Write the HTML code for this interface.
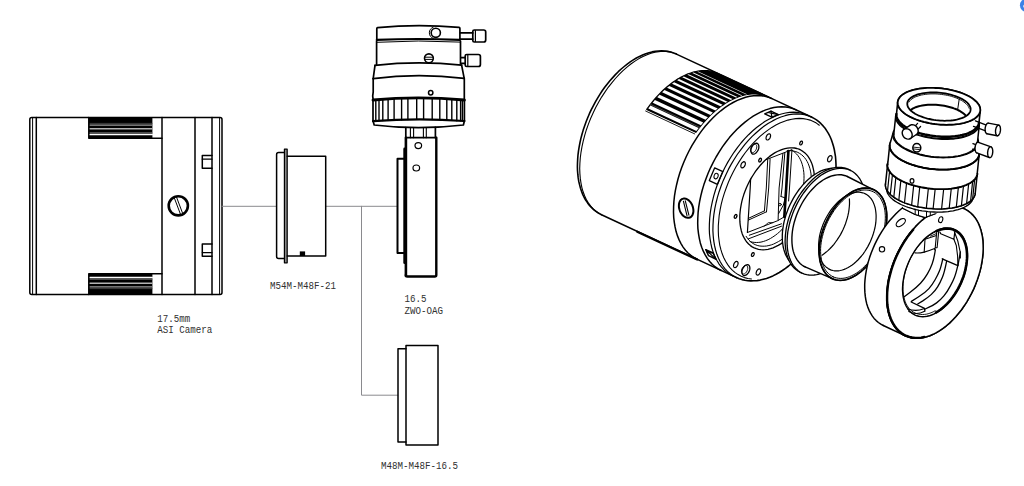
<!DOCTYPE html>
<html><head><meta charset="utf-8"><title>ZWO OAG back focus</title>
<style>html,body{margin:0;padding:0;background:#fff;overflow:hidden}
svg{display:block}
text{font-family:"Liberation Mono","DejaVu Sans Mono",monospace;}
</style></head><body>
<svg width="1024" height="486" viewBox="0 0 1024 486" stroke-linecap="round" stroke-linejoin="round">
<rect width="1024" height="486" fill="#fff"/>
<path d="M31.8 117.5L220 117.5Q222 117.5 222 119.5L222 292.5Q222 294.5 220 294.5L31.8 294.5Q29.8 294.5 29.8 292.5L29.8 119.5Q29.8 117.5 31.8 117.5Z" stroke="#000" stroke-width="1.5" fill="none"/>
<path d="M32.6 117.5L32.6 294.5" stroke="#000" stroke-width="1.0" fill="none"/>
<path d="M36.3 117.5L36.3 294.5" stroke="#000" stroke-width="1.5" fill="none"/>
<path d="M162 117.5L162 294.5" stroke="#000" stroke-width="1.5" fill="none"/>
<path d="M195 117.5L195 294.5" stroke="#000" stroke-width="1.5" fill="none"/>
<path d="M212 117.5L212 294.5" stroke="#000" stroke-width="1.5" fill="none"/>
<path d="M219.6 117.5L219.6 294.5" stroke="#000" stroke-width="1.0" fill="none"/>
<path d="M212 155.6L202.3 155.6L202.3 168.2L212 168.2" stroke="#000" stroke-width="1.5" fill="none"/>
<path d="M202.3 159.2L212 159.2" stroke="#000" stroke-width="1.2" fill="none"/>
<path d="M212 244L202.3 244L202.3 256.2L212 256.2" stroke="#000" stroke-width="1.5" fill="none"/>
<path d="M202.3 252.6L212 252.6" stroke="#000" stroke-width="1.2" fill="none"/>
<rect x="88.8" y="117.5" width="63.60000000000001" height="20.7" fill="#000"/>
<path d="M89.6 123.4L152.1 123.4" stroke="#555" stroke-width="0.7" fill="none"/>
<path d="M89.6 125.1L152.1 125.1" stroke="#9a9a9a" stroke-width="1.1" fill="none"/>
<path d="M89.6 128.7L152.1 128.7" stroke="#b4b4b4" stroke-width="1.4" fill="none"/>
<path d="M89.6 132.8L152.1 132.8" stroke="#8a8a8a" stroke-width="0.8" fill="none"/>
<path d="M89.6 134.5L152.1 134.5" stroke="#fff" stroke-width="1.7" fill="none"/>
<path d="M88.8 117.5L88.8 138.2L162 138.2" stroke="#000" stroke-width="1.5" fill="none"/>
<rect x="88.8" y="273.8" width="63.60000000000001" height="20.7" fill="#000"/>
<path d="M89.6 288.6L152.1 288.6" stroke="#555" stroke-width="0.7" fill="none"/>
<path d="M89.6 286.9L152.1 286.9" stroke="#9a9a9a" stroke-width="1.1" fill="none"/>
<path d="M89.6 283.3L152.1 283.3" stroke="#b4b4b4" stroke-width="1.4" fill="none"/>
<path d="M89.6 279.2L152.1 279.2" stroke="#8a8a8a" stroke-width="0.8" fill="none"/>
<path d="M89.6 277.5L152.1 277.5" stroke="#fff" stroke-width="1.7" fill="none"/>
<path d="M88.8 294.5L88.8 273.8L162 273.8" stroke="#000" stroke-width="1.5" fill="none"/>
<circle cx="178.3" cy="205.8" r="9.6" fill="none" stroke="#000" stroke-width="2.6"/>
<path d="M174.2 197.6L180.6 214.6M176.4 196.8L182.8 213.8" stroke="#000" stroke-width="1.0" fill="none"/>
<path d="M222 206.3L276.6 206.3" stroke="#8a8a8e" stroke-width="1" fill="none"/>
<path d="M325.7 206.3L397.4 206.3" stroke="#8a8a8e" stroke-width="1" fill="none"/>
<path d="M361.5 206.3L361.5 395.2L397.8 395.2" stroke="#8a8a8e" stroke-width="1" fill="none"/>
<path d="M284.6 152.5L278.6 152.5Q276.6 152.5 276.6 154.5L276.6 256.6Q276.6 258.6 278.6 258.6L284.6 258.6" stroke="#000" stroke-width="1.5" fill="none"/>
<rect x="284.4" y="149.2" width="2.8" height="113.6" fill="#888" stroke="#000" stroke-width="1.2"/>
<path d="M287.2 156.3L325.7 156.3L325.7 256L287.2 256" stroke="#000" stroke-width="1.5" fill="none"/>
<rect x="299.8" y="251.4" width="5.3" height="4.6" fill="#000"/>
<path d="M406 348.7L398 348.7L398 442.1L406 442.1" stroke="#000" stroke-width="1.5" fill="none"/>
<path d="M406 345.4L438 345.4L438 445.1L406 445.1Z" stroke="#000" stroke-width="1.5" fill="none"/>
<text x="157.2" y="321.6" font-size="11" textLength="33" lengthAdjust="spacingAndGlyphs" fill="#303030">17.5mm</text>
<text x="157.2" y="332.7" font-size="11" textLength="55" lengthAdjust="spacingAndGlyphs" fill="#303030">ASI Camera</text>
<text x="270" y="288.5" font-size="11" textLength="66" lengthAdjust="spacingAndGlyphs" fill="#303030">M54M-M48F-21</text>
<text x="404.4" y="302.3" font-size="11" textLength="22" lengthAdjust="spacingAndGlyphs" fill="#303030">16.5</text>
<text x="404.4" y="313.5" font-size="11" textLength="38.5" lengthAdjust="spacingAndGlyphs" fill="#303030">ZWO-OAG</text>
<text x="381" y="468.7" font-size="11" textLength="77" lengthAdjust="spacingAndGlyphs" fill="#303030">M48M-M48F-16.5</text>
<circle cx="1026.6" cy="5.3" r="6.7" fill="#3b82e6"/>
<circle cx="1024.6" cy="6.2" r="1.6" fill="#c4d9f8"/>
<path d="M377.6 27.6Q418 23.6 459 27.4Q459.9 27.5 459.9 28.4L459.9 39.5M376.8 39.5L376.8 28.5Q376.8 27.7 377.6 27.6" stroke="#000" stroke-width="1.7" fill="none"/>
<path d="M376.8 39.9Q418 38.1 459.9 39.9" stroke="#000" stroke-width="2.2" fill="none"/>
<path d="M376.8 42.3Q418 39.8 460.3 42.1" stroke="#000" stroke-width="1.0" fill="none"/>
<circle cx="435.8" cy="32.8" r="4.6" fill="#fff" stroke="#000" stroke-width="1.6"/>
<path d="M433.2 27.2A6 6 0 0 0 433.2 38.4" stroke="#000" stroke-width="1.0" fill="none"/>
<path d="M376.6 41L376.6 64.6M460.5 41L460.5 64.4" stroke="#000" stroke-width="1.7" fill="none"/>
<path d="M375 65.3Q418 60.7 461.6 65.1" stroke="#000" stroke-width="1.7" fill="none"/>
<path d="M375 65.3L373.2 78.6M461.6 65.1L464.2 78.4" stroke="#000" stroke-width="1.7" fill="none"/>
<path d="M373.2 78.6Q418 72.6 464.2 78.4" stroke="#000" stroke-width="1.8" fill="none"/>
<path d="M373.2 78.6L373.2 92Q372.2 96 373.2 100M464.3 78.4L464.3 100" stroke="#000" stroke-width="1.7" fill="none"/>
<path d="M373 100Q418 95.6 464.4 100" stroke="#000" stroke-width="2.8" fill="none"/>
<circle cx="430.7" cy="92.8" r="2.2" fill="#fff" stroke="#000" stroke-width="1.5"/>
<circle cx="428.9" cy="58.3" r="4.4" fill="#fff" stroke="#000" stroke-width="1.6"/>
<path d="M425 57.2L432.8 57.2M425 59.4L432.8 59.4" stroke="#000" stroke-width="1.0" fill="none"/>
<path d="M460.2 32.9L472.8 32.9M460.2 39.1L472.8 39.1" stroke="#000" stroke-width="1.7" fill="none"/>
<path d="M474.3 30L483.7 30Q485.7 30 485.7 32L485.7 40Q485.7 42 483.7 42L474.3 42Q472.8 42 472.8 40.5L472.8 31.5Q472.8 30 474.3 30Z" stroke="#000" stroke-width="1.7" fill="none"/>
<path d="M475.4 30.5L475.4 41.5" stroke="#000" stroke-width="1.2" fill="none"/>
<path d="M460.8 57.7L465.2 57.7M460.8 63.3L465.2 63.3" stroke="#000" stroke-width="1.7" fill="none"/>
<path d="M466.7 54.5L478.4 54.5Q480.4 54.5 480.4 56.5L480.4 64.5Q480.4 66.5 478.4 66.5L466.7 66.5Q465.2 66.5 465.2 65.0L465.2 56.0Q465.2 54.5 466.7 54.5Z" stroke="#000" stroke-width="1.7" fill="none"/>
<path d="M467.8 55.0L467.8 66.0" stroke="#000" stroke-width="1.2" fill="none"/>
<path d="M373 100L373 121.2M464.4 100L464.4 121" stroke="#000" stroke-width="1.7" fill="none"/>
<path d="M373 121.2Q418 117.6 464.4 121" stroke="#000" stroke-width="2.2" fill="none"/>
<path d="M373.2 121.5L374.2 125Q418 130.4 463.4 125L464.3 121.3" stroke="#000" stroke-width="1.7" fill="none"/>
<path d="M375.8 100.5L375.8 121" stroke="#000" stroke-width="1.4" fill="none"/>
<path d="M379 100.3L379 120.8" stroke="#000" stroke-width="1.4" fill="none"/>
<path d="M382.8 100L382.8 120.5" stroke="#000" stroke-width="1.4" fill="none"/>
<path d="M388.1 99.6L388.1 120.2" stroke="#000" stroke-width="1.4" fill="none"/>
<path d="M394.1 99.2L394.1 119.9" stroke="#000" stroke-width="1.4" fill="none"/>
<path d="M401.6 98.9L401.6 119.7" stroke="#000" stroke-width="1.4" fill="none"/>
<path d="M407.9 98.7L407.9 119.5" stroke="#000" stroke-width="1.4" fill="none"/>
<path d="M416.7 98.6L416.7 119.4" stroke="#000" stroke-width="1.4" fill="none"/>
<path d="M423.6 98.6L423.6 119.4" stroke="#000" stroke-width="1.4" fill="none"/>
<path d="M432.2 98.8L432.2 119.6" stroke="#000" stroke-width="1.4" fill="none"/>
<path d="M439.8 99.1L439.8 119.8" stroke="#000" stroke-width="1.4" fill="none"/>
<path d="M446.8 99.4L446.8 120.1" stroke="#000" stroke-width="1.4" fill="none"/>
<path d="M451.8 99.8L451.8 120.3" stroke="#000" stroke-width="1.4" fill="none"/>
<path d="M456.8 100.1L456.8 120.7" stroke="#000" stroke-width="1.4" fill="none"/>
<path d="M460.6 100.4L460.6 120.9" stroke="#000" stroke-width="1.4" fill="none"/>
<path d="M462.4 100.6L462.4 121" stroke="#000" stroke-width="1.4" fill="none"/>
<path d="M405.8 127.6L405.8 137.7M435.4 127.4L435.4 137.7" stroke="#000" stroke-width="1.7" fill="none"/>
<path d="M410.4 128L410.4 137.7" stroke="#000" stroke-width="1.1" fill="none"/>
<path d="M413.6 128L413.6 137.7" stroke="#000" stroke-width="1.1" fill="none"/>
<path d="M423.4 128L423.4 137.7" stroke="#000" stroke-width="1.1" fill="none"/>
<path d="M426.3 128L426.3 137.7" stroke="#000" stroke-width="1.1" fill="none"/>
<path d="M405.8 137.7L436.3 137.7" stroke="#000" stroke-width="1.7" fill="none"/>
<path d="M436.3 137.7L436.3 275Q436.3 276.5 434.8 276.5L407.4 276.5Q405.9 276.5 405.9 275" stroke="#000" stroke-width="2.4" fill="none"/>
<path d="M405.9 137.7L405.9 276" stroke="#000" stroke-width="2.6" fill="none"/>
<path d="M404.6 148.9L404.6 262.8" stroke="#000" stroke-width="2.6" fill="none"/>
<path d="M404 158.7L397.5 158.7L397.5 253L404 253" stroke="#000" stroke-width="2.0" fill="none"/>
<ellipse cx="418.3" cy="145.6" rx="3.3" ry="3" fill="#fff" stroke="#000" stroke-width="1.2"/>
<ellipse cx="416.3" cy="168" rx="3.3" ry="3" fill="#fff" stroke="#000" stroke-width="1.2"/>
<path d="M676.4 54.1L673.6 52.9L670.7 52L667.7 51.4L664.7 51L661.6 50.9L658.5 51L655.3 51.3L652.1 51.9L649 52.7L645.8 53.7L642.6 55L639.5 56.4L636.4 58L633.3 59.9L630.2 61.9L627.2 64.1L624.2 66.5L621.2 69L618.3 71.7L615.4 74.6L612.7 77.6L609.9 80.7L607.3 83.9L604.7 87.3L602.2 90.8L599.9 94.4L597.6 98.1L595.4 101.9L593.3 105.8L591.3 109.7L589.4 113.7L587.7 117.8L586.1 121.8L584.6 126L583.2 130.1L582 134.2L580.9 138.4L580 142.5L579.2 146.7L578.5 150.8L578 154.8L577.7 158.8L577.5 162.8L577.4 166.7L577.5 170.5L577.8 174.2L578.2 177.9L578.8 181.5L579.6 184.9L580.5 188.2L581.6 191.5L582.8 194.6L584.2 197.5L585.8 200.3L587.6 202.9L589.5 205.4L591.6 207.7L593.9 209.8L596.3 211.6L598.8 213.3L601.5 214.7" stroke="#000" stroke-width="1.6" fill="none"/>
<path d="M673.1 52.8L669.8 51.9L666.2 51.4L662.6 51.3L658.8 51.6L655 52.2L651 53.3L647.1 54.7L643 56.5L639 58.6L635 61.1L630.9 64L627 67.1L623 70.6L619.2 74.4L615.4 78.5L611.8 82.8L608.2 87.3L604.9 92.1L601.6 97.1L598.6 102.3L595.7 107.6L593.1 113L590.6 118.5L588.4 124.1L586.4 129.7L584.7 135.4L583.2 141.1L582 146.7L581 152.3L580.3 157.8L579.9 163.2L579.7 168.4L579.9 173.5L580.3 178.4L581 183.1L581.9 187.6L583.1 191.8L584.6 195.8L586.3 199.5L588.3 202.8L590.5 205.9L592.9 208.6L595.6 211L598.4 213" stroke="#000" stroke-width="1.1" fill="none"/>
<path d="M676.4 54.1L811.4 117" stroke="#000" stroke-width="1.5" fill="none"/>
<path d="M601.5 214.7L736.5 277.6" stroke="#000" stroke-width="1.5" fill="none"/>
<path d="M637.2 231.7L697.1 259.6" stroke="#000" stroke-width="2.2" fill="none"/>
<path d="M646.7 109.4L648.4 107L650.2 104.7L652 102.4L653.8 100.2L655.7 98L657.6 95.9L659.5 93.9L661.4 91.9L663.4 90L665.4 88.2L667.4 86.5L669.4 84.9L671.5 83.3L673.5 81.8L675.6 80.4L677.6 79.1L679.7 77.9L681.8 76.8L683.8 75.7L685.9 74.8L687.9 73.9L690 73.2L692 72.5L694 71.9L696 71.5L698 71.1L700 70.8L701.9 70.6L703.9 70.6L705.7 70.6L707.6 70.7L709.4 70.9L711.2 71.2L713 71.7L714.7 72.2L716.4 72.8L718 73.5L768.3 96.9L766.6 96.2L764.9 95.6L763.2 95.1L761.4 94.6L759.5 94.3L757.7 94.1L755.8 93.9L753.8 93.9L751.9 93.9L749.9 94.1L747.9 94.3L745.9 94.7L743.8 95.1L741.8 95.7L739.7 96.3L737.6 97.1L735.5 97.9L733.4 98.9L731.3 99.9L729.2 101L727.1 102.2L725 103.5L723 104.9L720.9 106.3L718.8 107.9L716.8 109.5L714.7 111.2L712.7 113L710.7 114.9L708.8 116.9L706.8 118.9L704.9 121L703 123.1L701.2 125.3L699.4 127.6L697.6 129.9L695.8 132.3Z" stroke="#000" stroke-width="1.2" fill="#000"/>
<path d="M648.3 108.5L696.4 131L698.6 128.1L650.4 105.6Z" fill="#fff" stroke="none"/>
<path d="M652.7 102.7L700.9 125.2L703.2 122.5L654.9 100Z" fill="#fff" stroke="none"/>
<path d="M657.3 97.3L705.5 119.8L707.9 117.3L659.6 94.8Z" fill="#fff" stroke="none"/>
<path d="M662.1 92.3L710.4 114.9L712.8 112.6L664.5 90Z" fill="#fff" stroke="none"/>
<path d="M667 87.8L715.4 110.4L717.7 108.4L669.3 85.9Z" fill="#fff" stroke="none"/>
<path d="M672 83.7L720.5 106.3L722.6 104.8L674.1 82.2Z" fill="#fff" stroke="none"/>
<path d="M677.1 80.2L725.6 102.8L727.5 101.7L679 79Z" fill="#fff" stroke="none"/>
<path d="M682.2 77.2L730.8 99.9L732.5 99L683.9 76.4Z" fill="#fff" stroke="none"/>
<path d="M687.4 74.8L736 97.5L737.4 96.9L688.7 74.2Z" fill="#fff" stroke="none"/>
<path d="M692.4 72.9L741.2 95.7L742.3 95.4L693.5 72.6Z" fill="#fff" stroke="none"/>
<path d="M697.4 71.7L746.3 94.4L747 94.3L698.2 71.5Z" fill="#fff" stroke="none"/>
<path d="M645.6 111L694.7 133.9" stroke="#000" stroke-width="0.9" fill="none"/>
<path d="M650.8 104.6L699.6 127.3" stroke="#777" stroke-width="0.6" fill="none"/>
<path d="M772 98.6L768.6 97.3L765 96.3L761.4 95.7L757.6 95.6L753.7 95.7L749.7 96.3L745.6 97.3L741.5 98.7L737.3 100.4L733.1 102.5L729 104.9L724.9 107.7L720.8 110.8L716.7 114.3L712.8 118L709 122L705.2 126.3L701.6 130.9L698.2 135.6L695 140.6L691.9 145.7L689 151L686.3 156.5L683.9 162L681.7 167.6L679.7 173.3L678 179L676.6 184.7L675.4 190.3L674.5 195.9L673.9 201.5L673.6 206.9L673.5 212.2L673.7 217.3L674.3 222.3L675.1 227L676.1 231.6L677.5 235.9L679.1 239.9L681 243.6L683.1 247.1L685.5 250.2L688 253L690.9 255.4L693.9 257.5L697.1 259.2" stroke="#000" stroke-width="1.5" fill="none"/>
<path d="M796.1 109.9L792.8 108.6L789.2 107.6L785.6 107L781.8 106.8L777.9 107L773.9 107.6L769.8 108.6L765.7 109.9L761.5 111.7L757.3 113.8L753.2 116.2L749.1 119L745 122.1L740.9 125.6L737 129.3L733.2 133.3L729.4 137.6L725.8 142.2L722.4 146.9L719.2 151.9L716.1 157L713.2 162.3L710.5 167.8L708.1 173.3L705.9 178.9L703.9 184.6L702.2 190.2L700.8 195.9L699.6 201.6L698.7 207.2L698.1 212.7L697.8 218.2L697.7 223.5L697.9 228.6L698.5 233.6L699.3 238.3L700.3 242.9L701.7 247.2L703.3 251.2L705.2 254.9L707.3 258.4L709.7 261.5L712.2 264.3L715 266.7L718.1 268.8L721.3 270.5" stroke="#000" stroke-width="1.5" fill="none"/>
<path d="M807.7 115.3L804.4 114L800.8 113L797.2 112.4L793.4 112.2L789.5 112.4L785.5 113L781.4 114L777.3 115.3L773.1 117.1L768.9 119.2L764.8 121.6L760.7 124.4L756.6 127.5L752.5 131L748.6 134.7L744.8 138.7L741 143L737.4 147.6L734 152.3L730.8 157.3L727.7 162.4L724.8 167.7L722.1 173.2L719.7 178.7L717.5 184.3L715.5 190L713.8 195.7L712.4 201.3L711.2 207L710.3 212.6L709.7 218.2L709.4 223.6L709.3 228.9L709.5 234L710.1 239L710.9 243.7L711.9 248.3L713.3 252.6L714.9 256.6L716.8 260.3L718.9 263.8L721.3 266.9L723.8 269.7L726.6 272.1L729.7 274.2L732.9 275.9" stroke="#000" stroke-width="1.2" fill="none"/>
<path d="M811.4 117L808 115.7L804.5 114.7L800.8 114.1L797 113.9L793.1 114.1L789.1 114.7L785 115.7L780.9 117L776.7 118.8L772.6 120.9L768.4 123.3L764.3 126.1L760.2 129.2L756.2 132.7L752.2 136.4L748.4 140.4L744.7 144.7L741.1 149.3L737.6 154L734.4 159L731.3 164.1L728.4 169.4L725.8 174.9L723.3 180.4L721.1 186L719.1 191.7L717.4 197.3L716 203L714.8 208.7L713.9 214.3L713.3 219.8L713 225.3L712.9 230.6L713.2 235.7L713.7 240.7L714.5 245.4L715.6 250L716.9 254.3L718.5 258.3L720.4 262L722.5 265.5L724.9 268.6L727.5 271.4L730.3 273.8L733.3 275.9L736.5 277.6" stroke="#000" stroke-width="1.2" fill="none"/>
<path d="M693.4 211.6L693.2 212.9L692.8 214.2L692.3 215.3L691.6 216.2L690.8 217L689.8 217.5L688.8 217.8L687.7 217.8L686.6 217.6L685.4 217.2L684.3 216.6L683.2 215.7L682.2 214.7L681.3 213.5L680.5 212.2L679.9 210.8L679.4 209.3L679 207.8L678.9 206.3L678.9 204.8L679.1 203.4L679.5 202.2L680 201.1L680.7 200.1L681.5 199.4L682.4 198.9L683.5 198.6L684.6 198.5L685.7 198.7L686.8 199.2L688 199.8L689 200.6L690 201.7L691 202.9L691.8 204.2L692.4 205.6L692.9 207.1L693.2 208.6L693.4 210.1L693.4 211.6Z" stroke="#000" stroke-width="2.0" fill="#fff"/>
<path d="M683.4 201.2L687 215.6M685.3 200.8L688.9 215.2" stroke="#000" stroke-width="1.1" fill="none"/>
<path d="M771 111.2L778.3 114.6L771.9 117.2L764.7 113.8Z" stroke="#000" stroke-width="1.4" fill="none"/>
<path d="M771 111.2L771.9 117.2" stroke="#000" stroke-width="1.2" fill="none"/>
<path d="M778.3 114.6L767.9 112.5" stroke="#000" stroke-width="1.2" fill="none"/>
<path d="M705.8 249.6L713.1 253L715.7 259L708.5 255.6Z" stroke="#000" stroke-width="1.4" fill="none"/>
<path d="M705.8 249.6L715.7 259" stroke="#000" stroke-width="1.2" fill="none"/>
<path d="M713.1 253L707.1 252.6" stroke="#000" stroke-width="1.2" fill="none"/>
<path d="M714.7 167.8L722.9 171.6L717.4 184.4L709.3 180.6Z" stroke="#000" stroke-width="1.3" fill="none"/>
<ellipse cx="716.1" cy="176.1" rx="2" ry="2.8" transform="rotate(20 716.1 176.1)" fill="none" stroke="#000" stroke-width="1"/>
<path d="M811.4 117L814 118.4L816.5 119.9L818.8 121.7L821 123.7L823.1 125.9L825.1 128.3L826.8 130.9L828.5 133.6L830 136.5L831.3 139.5L832.4 142.7L833.4 146L834.3 149.5L834.9 153.1L835.5 156.7L835.8 160.5L836 164.4L836 168.3L835.9 172.3L835.6 176.4L835.2 180.6L834.5 184.7L833.8 188.9L832.9 193.2L831.8 197.4L830.6 201.6L829.2 205.8L827.7 210L826.1 214.2L824.3 218.3L822.4 222.4L820.4 226.4L818.3 230.3L816 234.2L813.6 237.9L811.2 241.6L808.6 245.1L806 248.6L803.3 251.8L800.4 255L797.6 258L794.6 260.8L791.6 263.5L788.6 266L785.5 268.4L782.4 270.5L779.3 272.5L776.1 274.3L772.9 275.9L769.7 277.2L766.5 278.4L763.3 279.3L760.2 280.1L757 280.6L753.9 280.8L750.9 280.9L747.8 280.7L744.9 280.3L742 279.6L739.2 278.7L736.5 277.6Z" fill="#fff" stroke="none"/>
<path d="M811.4 117L814 118.4L816.5 119.9L818.8 121.7L821 123.7L823.1 125.9L825.1 128.3L826.8 130.9L828.5 133.6L830 136.5L831.3 139.5L832.4 142.7L833.4 146L834.3 149.5L834.9 153.1L835.5 156.7L835.8 160.5L836 164.4L836 168.3L835.9 172.3L835.6 176.4L835.2 180.6L834.5 184.7L833.8 188.9L832.9 193.2L831.8 197.4L830.6 201.6L829.2 205.8L827.7 210L826.1 214.2L824.3 218.3L822.4 222.4L820.4 226.4L818.3 230.3L816 234.2L813.6 237.9L811.2 241.6L808.6 245.1L806 248.6L803.3 251.8L800.4 255L797.6 258L794.6 260.8L791.6 263.5L788.6 266L785.5 268.4L782.4 270.5L779.3 272.5L776.1 274.3L772.9 275.9L769.7 277.2L766.5 278.4L763.3 279.3L760.2 280.1L757 280.6L753.9 280.8L750.9 280.9L747.8 280.7L744.9 280.3L742 279.6L739.2 278.7L736.5 277.6" stroke="#000" stroke-width="1.6" fill="none"/>
<path d="M819.3 125.2L816.4 123.1L813.3 121.5L810.1 120.1L806.7 119.2L803.1 118.6L799.4 118.4L795.7 118.6L791.8 119.2L787.9 120.1L783.9 121.4L779.9 123L775.9 125.1L771.8 127.4L767.9 130.1L763.9 133.1L760 136.4L756.2 140.1L752.5 143.9L748.9 148.1L745.4 152.5L742.1 157.1L739 161.9L736 166.8L733.2 172L730.6 177.2L728.3 182.5L726.2 188L724.3 193.4L722.6 198.9L721.2 204.4L720.1 209.9L719.2 215.3L718.7 220.7L718.3 225.9L718.3 231L718.5 236L719.1 240.8L719.8 245.3L720.9 249.7L722.2 253.8L723.8 257.7L725.6 261.3L727.7 264.6L729.9 267.6L732.5 270.3L735.2 272.6L738.1 274.6L741.2 276.3L744.5 277.6L747.9 278.5L751.5 279" stroke="#000" stroke-width="1.1" fill="none"/>
<path d="M754.2 247.9L756.3 248.7L758.5 249.3L760.7 249.7L763.1 249.8L765.5 249.7L768 249.3L770.5 248.7L773.1 247.8L775.6 246.7L778.2 245.4L780.8 243.9L783.3 242.1L785.9 240.2L788.3 238L790.8 235.7L793.1 233.1L795.4 230.5L797.6 227.6L799.7 224.7L801.7 221.6L803.6 218.4L805.4 215.1L807 211.7L808.4 208.3L809.8 204.8L810.9 201.3L811.9 197.7L812.8 194.2L813.5 190.7L814 187.3L814.3 183.9L814.4 180.5L814.4 177.3L814.2 174.2L813.8 171.1L813.2 168.3L812.5 165.5L811.6 162.9L810.5 160.5L809.3 158.3L807.9 156.2L806.4 154.4L804.7 152.8L802.9 151.4L801 150.2L799 149.2L796.8 148.5L794.6 148L792.3 147.8L789.9 147.8L787.5 148.1L785 148.6L782.4 149.3L779.9 150.3L777.3 151.5L774.7 152.9L772.1 154.6L769.6 156.4L767.1 158.5L764.6 160.7L762.2 163.2L759.9 165.8L757.7 168.5L755.5 171.4L753.5 174.5L751.5 177.6L749.7 180.9L748 184.2L746.5 187.6L745.1 191.1L743.8 194.6L742.7 198.1L741.8 201.6L741.1 205.1L740.5 208.6L740.1 212L739.8 215.4L739.8 218.7L739.9 221.9L740.2 225L740.7 227.9L741.3 230.7L742.1 233.4L743.1 235.9L744.3 238.2L745.6 240.4L747 242.3L748.6 244L750.4 245.6L752.2 246.9L754.2 247.9Z" stroke="#000" stroke-width="1.3" fill="none"/>
<path d="M746.1 236.3L747.4 238.2L748.8 240L750.4 241.5L752.1 242.9L753.9 244L755.8 244.9L757.8 245.6L759.9 246L762.1 246.2L764.3 246.2L766.6 246L768.9 245.5L771.3 244.9L773.7 244L776.1 242.8L778.6 241.5L781 240L783.4 238.2L785.7 236.3L788 234.2L790.3 231.9L792.5 229.5L794.6 226.9L796.6 224.1L798.5 221.3L800.3 218.3L802 215.3L803.6 212.1L805.1 208.9L806.4 205.7L807.6 202.4L808.6 199.1L809.5 195.8L810.2 192.5L810.7 189.2L811.1 186L811.3 182.9L811.4 179.8L811.2 176.8L811 173.9L810.5 171.1L809.9 168.5L809.1 166L808.2 163.6L807.1 161.4L805.9 159.4L804.5 157.6L803 156L801.4 154.6L799.6 153.4L797.8 152.4L795.8 151.6L793.7 151.1L791.6 150.7L789.4 150.7L787.1 150.8" stroke="#000" stroke-width="1.0" fill="none"/>
<path d="M750.1 241.6L752.1 242.1L754.2 242.4L756.4 242.5L758.7 242.4L761 242.1L763.3 241.5L765.7 240.7L768.1 239.7L770.4 238.5L772.8 237L775.2 235.4L777.5 233.6L779.8 231.6L782.1 229.4L784.3 227.1L786.4 224.6L788.5 222L790.4 219.2L792.3 216.3L794 213.3L795.6 210.3L797.1 207.2L798.5 204L799.7 200.7L800.8 197.5L801.7 194.2L802.5 191L803.1 187.7L803.6 184.5L803.9 181.4L804 178.3L804 175.3L803.8 172.3L803.4 169.5L802.9 166.9L802.2 164.3L801.4 161.9L800.4 159.7L799.3 157.6L798 155.7L796.6 154L795 152.5L793.4 151.2L791.6 150.1" stroke="#000" stroke-width="1.0" fill="none"/>
<path d="M766.9 139.9L767.5 140L768.2 139.8L768.9 139.3L769.6 138.6L770.1 137.7L770.4 136.8L770.6 135.8L770.5 135L770.2 134.3L769.7 133.9L769.1 133.8L768.4 134L767.7 134.5L767 135.2L766.5 136.1L766.2 137L766 138L766.1 138.8L766.4 139.5Z" stroke="#000" stroke-width="1.2" fill="#fff"/>
<path d="M741.7 167.8L742.3 167.9L743 167.7L743.7 167.2L744.4 166.5L744.9 165.6L745.2 164.7L745.4 163.7L745.3 162.9L745 162.2L744.5 161.8L743.9 161.7L743.2 161.9L742.5 162.4L741.8 163.1L741.3 164L741 164.9L740.8 165.9L740.9 166.7L741.2 167.4Z" stroke="#000" stroke-width="1.2" fill="#fff"/>
<path d="M828.4 161.7L829 161.8L829.7 161.6L830.4 161.1L831.1 160.4L831.6 159.5L831.9 158.6L832.1 157.6L832 156.8L831.7 156.1L831.2 155.7L830.6 155.6L829.9 155.8L829.2 156.3L828.5 157L828 157.9L827.7 158.8L827.5 159.8L827.6 160.6L827.9 161.3Z" stroke="#000" stroke-width="1.2" fill="#fff"/>
<path d="M734.4 267.5L735 267.6L735.7 267.4L736.4 266.9L737.1 266.2L737.6 265.3L737.9 264.4L738.1 263.4L738 262.6L737.7 261.9L737.2 261.5L736.6 261.4L735.9 261.6L735.2 262.1L734.5 262.8L734 263.7L733.7 264.6L733.5 265.6L733.6 266.4L733.9 267.1Z" stroke="#000" stroke-width="1.2" fill="#fff"/>
<path d="M757 275L757.6 275.1L758.3 274.9L759 274.4L759.7 273.7L760.2 272.8L760.5 271.9L760.7 270.9L760.6 270.1L760.3 269.4L759.8 269L759.2 268.9L758.5 269.1L757.8 269.6L757.1 270.3L756.6 271.2L756.3 272.1L756.1 273.1L756.2 273.9L756.5 274.6Z" stroke="#000" stroke-width="1.2" fill="#fff"/>
<path d="M759.3 161.9L759.6 162L760.1 161.9L760.5 161.6L760.9 161.1L761.2 160.6L761.4 160L761.5 159.4L761.4 158.9L761.2 158.5L760.9 158.3L760.6 158.2L760.1 158.3L759.7 158.6L759.3 159.1L759 159.6L758.8 160.2L758.7 160.8L758.8 161.3L759 161.7Z" stroke="#000" stroke-width="1.3" fill="#fff"/>
<path d="M800.3 144.8L800.6 144.9L801.1 144.8L801.5 144.5L801.9 144L802.2 143.5L802.4 142.9L802.5 142.3L802.4 141.8L802.2 141.4L801.9 141.2L801.6 141.1L801.1 141.2L800.7 141.5L800.3 142L800 142.5L799.8 143.1L799.7 143.7L799.8 144.2L800 144.6Z" stroke="#000" stroke-width="1.3" fill="#fff"/>
<path d="M734.8 218.2L735.1 218.3L735.6 218.2L736 217.9L736.4 217.4L736.7 216.9L736.9 216.3L737 215.7L736.9 215.2L736.7 214.8L736.4 214.6L736.1 214.5L735.6 214.6L735.2 214.9L734.8 215.4L734.5 215.9L734.3 216.5L734.2 217.1L734.3 217.6L734.5 218Z" stroke="#000" stroke-width="1.3" fill="#fff"/>
<path d="M752 256.3L752.3 256.4L752.8 256.3L753.2 256L753.6 255.5L753.9 255L754.1 254.4L754.2 253.8L754.1 253.3L753.9 252.9L753.6 252.7L753.3 252.6L752.8 252.7L752.4 253L752 253.5L751.7 254L751.5 254.6L751.4 255.2L751.5 255.7L751.7 256.1Z" stroke="#000" stroke-width="1.3" fill="#fff"/>
<path d="M752.4 154L753.5 154.2L754.8 153.8L756 153L757.1 151.7L758.1 150.2L758.7 148.5L758.9 146.8L758.7 145.3L758.2 144.2L757.4 143.4L756.3 143.2L755 143.6L753.8 144.4L752.7 145.7L751.7 147.2L751.1 148.9L750.9 150.6L751.1 152.1L751.6 153.2Z" stroke="#000" stroke-width="1.3" fill="#fff"/>
<path d="M751.7 152.5L752.5 152.6L753.5 152.4L754.5 151.7L755.4 150.7L756.1 149.5L756.6 148.1L756.8 146.8L756.6 145.6L756.2 144.7L755.5 144.1L754.7 144L753.7 144.2L752.7 144.9L751.8 145.9L751.1 147.1L750.6 148.5L750.4 149.8L750.6 151L751 151.9Z" stroke="#000" stroke-width="0.9" fill="none"/>
<path d="M743.4 275.4L744.5 275.6L745.8 275.2L747 274.4L748.1 273.1L749.1 271.6L749.7 269.9L749.9 268.2L749.7 266.7L749.2 265.6L748.4 264.8L747.3 264.6L746 265L744.8 265.8L743.7 267.1L742.7 268.6L742.1 270.3L741.9 272L742.1 273.5L742.6 274.6Z" stroke="#000" stroke-width="1.3" fill="#fff"/>
<path d="M742.7 273.9L743.5 274L744.5 273.8L745.5 273.1L746.4 272.1L747.1 270.9L747.6 269.5L747.8 268.2L747.6 267L747.2 266.1L746.5 265.5L745.7 265.4L744.7 265.6L743.7 266.3L742.8 267.3L742.1 268.5L741.6 269.9L741.4 271.2L741.6 272.4L742 273.3Z" stroke="#000" stroke-width="0.9" fill="none"/>
<path d="M766.3 159.6L791.9 149.7" stroke="#000" stroke-width="1.0" fill="none"/>
<path d="M767.7 159.6L766.3 188L764.4 210.9" stroke="#000" stroke-width="1.0" fill="none"/>
<path d="M770.1 158.8L768.7 188L766.5 211.8" stroke="#000" stroke-width="1.0" fill="none"/>
<path d="M782.9 153.5L779.1 188L778.1 220.4" stroke="#000" stroke-width="1.0" fill="none"/>
<path d="M784.8 153L782 188L781 196.5" stroke="#000" stroke-width="1.0" fill="none"/>
<path d="M788.4 151.1L786.2 188L784.3 217" stroke="#000" stroke-width="2.6" fill="none"/>
<path d="M791.9 150.4L789.5 188L788.6 201" stroke="#000" stroke-width="1.0" fill="none"/>
<path d="M750.6 179L750.2 188L747.4 232.5" stroke="#000" stroke-width="1.2" fill="none"/>
<path d="M748.3 218.4L764.4 210.9" stroke="#000" stroke-width="1.0" fill="none"/>
<path d="M748.4 220.1L766.5 211.8" stroke="#000" stroke-width="1.0" fill="none"/>
<path d="M747.4 232.5L777.7 220.7L783 217.6" stroke="#000" stroke-width="1.0" fill="none"/>
<path d="M749.3 235.2L781.5 223.8" stroke="#000" stroke-width="1.0" fill="none"/>
<path d="M748.3 238.9L781.5 226.2" stroke="#000" stroke-width="1.0" fill="none"/>
<path d="M764 226.3L768.5 222.5L772.8 222.7" stroke="#000" stroke-width="0.8" fill="none"/>
<path d="M781 196.5L785.2 197.9L783.4 205L778.6 213.6" stroke="#000" stroke-width="1.0" fill="none"/>
<circle cx="780" cy="204.6" r="1.3" fill="none" stroke="#000" stroke-width="0.9"/>
<path d="M796.4 266.3L798.4 267.1L800.6 267.7L802.8 268L805.1 268.1L807.5 268L809.9 267.6L812.4 267L814.8 266.2L817.4 265.1L819.9 263.8L822.4 262.3L824.9 260.6L827.4 258.7L829.8 256.6L832.2 254.3L834.5 251.8L836.7 249.2L838.9 246.4L840.9 243.5L842.9 240.5L844.7 237.4L846.4 234.1L848 230.8L849.4 227.5L850.7 224.1L851.9 220.7L852.9 217.2L853.7 213.8L854.3 210.4L854.8 207L855.1 203.6L855.3 200.4L855.3 197.2L855 194.2L854.7 191.2L854.1 188.4L853.4 185.7L852.5 183.2L851.5 180.8L850.3 178.6L848.9 176.6L847.4 174.8L845.8 173.2L844.1 171.8L842.2 170.7L840.2 169.8L838.1 169.1L835.9 168.6L833.6 168.4L831.3 168.4L828.9 168.6L826.5 169.1L824 169.8L821.5 170.8L819 172L816.4 173.4L813.9 175L811.5 176.8L809 178.8L806.6 181L804.3 183.4L802 185.9L799.8 188.6L797.7 191.5L795.7 194.4L793.8 197.5L792 200.7L790.4 204L788.9 207.3L787.5 210.7L786.3 214.1L785.2 217.5L784.3 221L783.6 224.4L783 227.8L782.6 231.2L782.4 234.5L782.3 237.7L782.4 240.8L782.7 243.8L783.2 246.7L783.8 249.5L784.6 252.1L785.6 254.5L786.7 256.8L788 258.9L789.4 260.8L790.9 262.5L792.6 264L794.5 265.2L796.4 266.3ZM801.8 268.8L803.9 269.6L806 270.2L808.2 270.5L810.5 270.7L812.9 270.5L815.3 270.2L817.8 269.6L820.3 268.7L822.8 267.7L825.3 266.4L827.8 264.9L830.3 263.1L832.8 261.2L835.2 259.1L837.6 256.8L839.9 254.4L842.1 251.7L844.3 249L846.4 246.1L848.3 243L850.1 239.9L851.9 236.7L853.4 233.4L854.9 230L856.2 226.6L857.3 223.2L858.3 219.7L859.1 216.3L859.8 212.9L860.3 209.5L860.6 206.2L860.7 202.9L860.7 199.8L860.5 196.7L860.1 193.7L859.6 190.9L858.8 188.2L858 185.7L856.9 183.3L855.7 181.1L854.4 179.1L852.9 177.4L851.2 175.8L849.5 174.4L847.6 173.2L845.6 172.3L843.5 171.6L841.3 171.1L839.1 170.9L836.7 170.9L834.4 171.2L831.9 171.7L829.4 172.4L826.9 173.3L824.4 174.5L821.9 175.9L819.4 177.5L816.9 179.3L814.4 181.3L812 183.5L809.7 185.9L807.4 188.5L805.2 191.2L803.1 194L801.1 197L799.2 200.1L797.4 203.2L795.8 206.5L794.3 209.8L792.9 213.2L791.7 216.6L790.6 220.1L789.7 223.5L789 227L788.4 230.4L788 233.7L787.8 237L787.7 240.2L787.9 243.3L788.1 246.4L788.6 249.2L789.2 252L790 254.6L791 257.1L792.1 259.3L793.4 261.4L794.8 263.3L796.4 265L798.1 266.5L799.9 267.8L801.8 268.8ZM796.4 266.3L801.8 268.8L846.6 172.7L841.2 170.2Z" fill="#fff" stroke="none"/>
<path d="M796.4 266.3L801.8 268.8M841.2 170.2L846.6 172.7" stroke="#000" stroke-width="1.3" fill="none"/>
<path d="M841.2 170.2L839.2 169.4L837.1 168.8L834.9 168.5L832.6 168.4L830.2 168.5L827.9 168.8L825.4 169.4L823 170.2L820.5 171.2L818 172.5L815.5 174L813 175.6L810.6 177.5L808.2 179.6L805.8 181.8L803.5 184.2L801.3 186.8L799.1 189.5L797.1 192.3L795.1 195.3L793.3 198.4L791.6 201.6L790 204.8L788.5 208.1L787.2 211.5L786 214.9L785 218.3L784.1 221.7L783.4 225L782.9 228.4L782.5 231.7L782.3 235L782.3 238.1L782.4 241.2L782.8 244.2L783.2 247L783.9 249.7L784.7 252.3L785.6 254.7L786.8 256.9L788 259L789.4 260.9L791 262.5L792.7 264L794.5 265.2L796.4 266.3" stroke="#000" stroke-width="1.3" fill="none"/>
<path d="M801.8 268.8L803.9 269.6L806 270.2L808.2 270.5L810.5 270.7L812.9 270.5L815.3 270.2L817.8 269.6L820.3 268.7L822.8 267.7L825.3 266.4L827.8 264.9L830.3 263.1L832.8 261.2L835.2 259.1L837.6 256.8L839.9 254.4L842.1 251.7L844.3 249L846.4 246.1L848.3 243L850.1 239.9L851.9 236.7L853.4 233.4L854.9 230L856.2 226.6L857.3 223.2L858.3 219.7L859.1 216.3L859.8 212.9L860.3 209.5L860.6 206.2L860.7 202.9L860.7 199.8L860.5 196.7L860.1 193.7L859.6 190.9L858.8 188.2L858 185.7L856.9 183.3L855.7 181.1L854.4 179.1L852.9 177.4L851.2 175.8L849.5 174.4L847.6 173.2L845.6 172.3L843.5 171.6L841.3 171.1L839.1 170.9L836.7 170.9L834.4 171.2L831.9 171.7L829.4 172.4L826.9 173.3L824.4 174.5L821.9 175.9L819.4 177.5L816.9 179.3L814.4 181.3L812 183.5L809.7 185.9L807.4 188.5L805.2 191.2L803.1 194L801.1 197L799.2 200.1L797.4 203.2L795.8 206.5L794.3 209.8L792.9 213.2L791.7 216.6L790.6 220.1L789.7 223.5L789 227L788.4 230.4L788 233.7L787.8 237L787.7 240.2L787.9 243.3L788.1 246.4L788.6 249.2L789.2 252L790 254.6L791 257.1L792.1 259.3L793.4 261.4L794.8 263.3L796.4 265L798.1 266.5L799.9 267.8L801.8 268.8Z" stroke="#000" stroke-width="1.3" fill="#fff"/>
<path d="M800.2 272.3L802.4 273.1L804.7 273.7L807.1 274.1L809.6 274.2L812.1 274.1L814.7 273.7L817.3 273L820 272.2L822.7 271L825.4 269.6L828.1 268L830.8 266.2L833.4 264.1L836 261.9L838.6 259.4L841 256.8L843.4 254L845.7 251L847.9 247.9L850 244.6L852 241.3L853.8 237.8L855.5 234.3L857.1 230.7L858.5 227L859.7 223.4L860.7 219.7L861.6 216L862.3 212.3L862.8 208.7L863.2 205.1L863.3 201.6L863.3 198.3L863.1 195L862.7 191.8L862.1 188.8L861.3 185.9L860.4 183.2L859.3 180.6L858 178.3L856.5 176.2L854.9 174.2L853.2 172.5L851.3 171.1L849.3 169.8L847.2 168.8L844.9 168.1L842.6 167.6L840.1 167.3L837.6 167.4L835.1 167.6L832.5 168.1L829.8 168.9L827.1 169.9L824.4 171.2L821.7 172.7L819 174.4L816.4 176.4L813.7 178.5L811.2 180.9L808.7 183.4L806.2 186.2L803.9 189.1L801.6 192.1L799.5 195.3L797.4 198.6L795.5 202L793.8 205.5L792.1 209.1L790.7 212.7L789.4 216.3L788.2 220L787.3 223.7L786.5 227.4L785.9 231L785.4 234.6L785.2 238.2L785.1 241.6L785.2 245L785.6 248.2L786.1 251.3L786.7 254.2L787.6 257L788.6 259.7L789.8 262.1L791.2 264.3L792.7 266.4L794.4 268.2L796.2 269.8L798.2 271.1L800.2 272.3ZM802.2 273.2L804.4 274.1L806.7 274.7L809.1 275L811.6 275.2L814.1 275L816.7 274.6L819.3 274L822 273.1L824.7 271.9L827.4 270.6L830.1 269L832.8 267.1L835.4 265.1L838 262.8L840.6 260.3L843 257.7L845.4 254.9L847.7 251.9L849.9 248.8L852 245.6L854 242.2L855.8 238.8L857.5 235.2L859.1 231.6L860.5 228L861.7 224.3L862.7 220.6L863.6 216.9L864.3 213.3L864.8 209.6L865.2 206.1L865.3 202.6L865.3 199.2L865.1 195.9L864.7 192.7L864.1 189.7L863.3 186.8L862.4 184.1L861.3 181.6L860 179.2L858.5 177.1L856.9 175.2L855.2 173.5L853.3 172L851.3 170.8L849.1 169.8L846.9 169L844.6 168.5L842.1 168.3L839.6 168.3L837.1 168.6L834.5 169.1L831.8 169.8L829.1 170.9L826.4 172.1L823.7 173.6L821 175.3L818.4 177.3L815.7 179.5L813.2 181.8L810.6 184.4L808.2 187.1L805.9 190L803.6 193L801.5 196.2L799.4 199.5L797.5 202.9L795.8 206.4L794.1 210L792.7 213.6L791.4 217.3L790.2 221L789.3 224.6L788.5 228.3L787.8 232L787.4 235.6L787.2 239.1L787.1 242.5L787.2 245.9L787.5 249.1L788 252.2L788.7 255.2L789.6 258L790.6 260.6L791.8 263L793.2 265.3L794.7 267.3L796.4 269.1L798.2 270.7L800.1 272.1L802.2 273.2ZM800.2 272.3L802.2 273.2L850.2 170.2L848.2 169.3Z" fill="#fff" stroke="none"/>
<path d="M800.2 272.3L802.2 273.2M848.2 169.3L850.2 170.2" stroke="#000" stroke-width="1.3" fill="none"/>
<path d="M848.2 169.3L846.1 168.4L843.8 167.8L841.4 167.4L839 167.3L836.5 167.4L833.9 167.8L831.3 168.4L828.7 169.3L826 170.4L823.4 171.8L820.7 173.3L818 175.1L815.4 177.1L812.8 179.3L810.3 181.7L807.9 184.3L805.5 187.1L803.2 190L801 193L798.9 196.2L796.9 199.5L795.1 202.9L793.3 206.4L791.8 209.9L790.4 213.5L789.1 217.1L788 220.8L787.1 224.4L786.3 228.1L785.8 231.7L785.4 235.2L785.2 238.7L785.1 242.1L785.3 245.4L785.6 248.6L786.1 251.6L786.8 254.5L787.7 257.3L788.7 259.9L789.9 262.3L791.3 264.5L792.8 266.5L794.4 268.2L796.2 269.8L798.2 271.1L800.2 272.3" stroke="#000" stroke-width="1.3" fill="none"/>
<path d="M802.2 273.2L804.4 274.1L806.7 274.7L809.1 275L811.6 275.2L814.1 275L816.7 274.6L819.3 274L822 273.1L824.7 271.9L827.4 270.6L830.1 269L832.8 267.1L835.4 265.1L838 262.8L840.6 260.3L843 257.7L845.4 254.9L847.7 251.9L849.9 248.8L852 245.6L854 242.2L855.8 238.8L857.5 235.2L859.1 231.6L860.5 228L861.7 224.3L862.7 220.6L863.6 216.9L864.3 213.3L864.8 209.6L865.2 206.1L865.3 202.6L865.3 199.2L865.1 195.9L864.7 192.7L864.1 189.7L863.3 186.8L862.4 184.1L861.3 181.6L860 179.2L858.5 177.1L856.9 175.2L855.2 173.5L853.3 172L851.3 170.8L849.1 169.8L846.9 169L844.6 168.5L842.1 168.3L839.6 168.3L837.1 168.6L834.5 169.1L831.8 169.8L829.1 170.9L826.4 172.1L823.7 173.6L821 175.3L818.4 177.3L815.7 179.5L813.2 181.8L810.6 184.4L808.2 187.1L805.9 190L803.6 193L801.5 196.2L799.4 199.5L797.5 202.9L795.8 206.4L794.1 210L792.7 213.6L791.4 217.3L790.2 221L789.3 224.6L788.5 228.3L787.8 232L787.4 235.6L787.2 239.1L787.1 242.5L787.2 245.9L787.5 249.1L788 252.2L788.7 255.2L789.6 258L790.6 260.6L791.8 263L793.2 265.3L794.7 267.3L796.4 269.1L798.2 270.7L800.1 272.1L802.2 273.2Z" stroke="#000" stroke-width="1.3" fill="#fff"/>
<path d="M805.1 266.9L807.1 267.7L809.1 268.2L811.2 268.6L813.3 268.7L815.6 268.5L817.8 268.2L820.2 267.6L822.5 266.8L824.9 265.8L827.2 264.6L829.6 263.2L832 261.6L834.3 259.8L836.6 257.8L838.8 255.6L841 253.3L843.1 250.9L845.1 248.2L847.1 245.5L848.9 242.7L850.6 239.7L852.2 236.7L853.7 233.6L855.1 230.4L856.3 227.2L857.4 224L858.3 220.7L859.1 217.5L859.7 214.3L860.2 211.1L860.4 208L860.6 204.9L860.6 201.9L860.4 199L860 196.2L859.5 193.6L858.8 191.1L858 188.7L857 186.4L855.9 184.4L854.6 182.5L853.2 180.8L851.7 179.3L850 178L848.2 176.9L846.4 176.1L844.4 175.4L842.3 175L840.2 174.8L838 174.8L835.8 175L833.5 175.5L831.1 176.1L828.8 177L826.4 178.1L824 179.5L821.7 181L819.3 182.7L817 184.6L814.7 186.7L812.5 188.9L810.4 191.3L808.3 193.8L806.3 196.5L804.5 199.3L802.7 202.2L801 205.2L799.5 208.3L798 211.4L796.7 214.6L795.6 217.8L794.6 221.1L793.7 224.3L793 227.5L792.5 230.7L792.1 233.9L791.9 237L791.9 240L792 242.9L792.2 245.8L792.7 248.5L793.3 251.1L794 253.6L794.9 255.9L796 258L797.2 260L798.5 261.8L800 263.4L801.6 264.8L803.3 265.9L805.1 266.9ZM832.3 278.6L834.1 279.3L836.1 279.9L838.2 280.2L840.3 280.3L842.5 280.2L844.7 279.8L847 279.3L849.3 278.5L851.6 277.5L854 276.3L856.3 274.9L858.6 273.3L860.9 271.6L863.1 269.6L865.3 267.5L867.5 265.2L869.5 262.8L871.5 260.2L873.4 257.6L875.2 254.8L876.9 251.9L878.5 248.9L880 245.8L881.3 242.7L882.5 239.6L883.5 236.4L884.5 233.2L885.2 230L885.8 226.9L886.3 223.8L886.6 220.7L886.7 217.7L886.7 214.7L886.5 211.9L886.1 209.2L885.6 206.6L885 204.1L884.1 201.7L883.2 199.5L882.1 197.5L880.8 195.7L879.4 194L877.9 192.6L876.3 191.3L874.6 190.2L872.7 189.4L870.8 188.7L868.8 188.3L866.7 188.1L864.5 188.1L862.3 188.3L860.1 188.8L857.8 189.4L855.4 190.3L853.1 191.4L850.8 192.7L848.5 194.2L846.2 195.9L843.9 197.7L841.7 199.8L839.5 202L837.4 204.3L835.4 206.8L833.4 209.4L831.6 212.2L829.8 215L828.2 218L826.7 221L825.3 224.1L824 227.2L822.9 230.3L821.9 233.5L821.1 236.7L820.4 239.9L819.9 243L819.5 246.1L819.3 249.2L819.2 252.1L819.3 255L819.6 257.8L820 260.5L820.6 263L821.4 265.5L822.2 267.7L823.3 269.8L824.5 271.8L825.8 273.5L827.2 275.1L828.8 276.4L830.5 277.6L832.3 278.6ZM805.1 266.9L832.3 278.6L873.7 189.8L847.3 176.5Z" fill="#fff" stroke="none"/>
<path d="M805.1 266.9L832.3 278.6M847.3 176.5L873.7 189.8" stroke="#000" stroke-width="1.4" fill="none"/>
<path d="M847.3 176.5L845.4 175.7L843.4 175.2L841.4 174.8L839.2 174.7L837 174.9L834.8 175.2L832.5 175.7L830.1 176.5L827.8 177.5L825.5 178.6L823.1 180L820.8 181.6L818.5 183.3L816.2 185.3L814 187.4L811.8 189.7L809.7 192.1L807.7 194.6L805.8 197.3L803.9 200.1L802.2 203L800.6 206L799.1 209L797.7 212.2L796.5 215.3L795.4 218.5L794.4 221.7L793.6 224.9L792.9 228.1L792.4 231.3L792.1 234.4L791.9 237.4L791.9 240.4L792 243.3L792.3 246.1L792.7 248.8L793.3 251.4L794.1 253.8L795 256L796.1 258.1L797.3 260.1L798.6 261.8L800.1 263.4L801.6 264.8L803.3 266L805.1 266.9" stroke="#000" stroke-width="1.4" fill="none"/>
<path d="M832.3 278.6L834.1 279.3L836.1 279.9L838.2 280.2L840.3 280.3L842.5 280.2L844.7 279.8L847 279.3L849.3 278.5L851.6 277.5L854 276.3L856.3 274.9L858.6 273.3L860.9 271.6L863.1 269.6L865.3 267.5L867.5 265.2L869.5 262.8L871.5 260.2L873.4 257.6L875.2 254.8L876.9 251.9L878.5 248.9L880 245.8L881.3 242.7L882.5 239.6L883.5 236.4L884.5 233.2L885.2 230L885.8 226.9L886.3 223.8L886.6 220.7L886.7 217.7L886.7 214.7L886.5 211.9L886.1 209.2L885.6 206.6L885 204.1L884.1 201.7L883.2 199.5L882.1 197.5L880.8 195.7L879.4 194L877.9 192.6L876.3 191.3L874.6 190.2L872.7 189.4L870.8 188.7L868.8 188.3L866.7 188.1L864.5 188.1L862.3 188.3L860.1 188.8L857.8 189.4L855.4 190.3L853.1 191.4L850.8 192.7L848.5 194.2L846.2 195.9L843.9 197.7L841.7 199.8L839.5 202L837.4 204.3L835.4 206.8L833.4 209.4L831.6 212.2L829.8 215L828.2 218L826.7 221L825.3 224.1L824 227.2L822.9 230.3L821.9 233.5L821.1 236.7L820.4 239.9L819.9 243L819.5 246.1L819.3 249.2L819.2 252.1L819.3 255L819.6 257.8L820 260.5L820.6 263L821.4 265.5L822.2 267.7L823.3 269.8L824.5 271.8L825.8 273.5L827.2 275.1L828.8 276.4L830.5 277.6L832.3 278.6Z" stroke="#000" stroke-width="1.4" fill="#fff"/>
<path d="M832.3 278.6L834.1 279.3L836.1 279.9L838.2 280.2L840.3 280.3L842.5 280.2L844.7 279.8L847 279.3L849.3 278.5L851.6 277.5L854 276.3L856.3 274.9L858.6 273.3L860.9 271.6L863.1 269.6L865.3 267.5L867.5 265.2L869.5 262.8L871.5 260.2L873.4 257.6L875.2 254.8L876.9 251.9L878.5 248.9L880 245.8L881.3 242.7L882.5 239.6L883.5 236.4L884.5 233.2L885.2 230L885.8 226.9L886.3 223.8L886.6 220.7L886.7 217.7L886.7 214.7L886.5 211.9L886.1 209.2L885.6 206.6L885 204.1L884.1 201.7L883.2 199.5L882.1 197.5L880.8 195.7L879.4 194L877.9 192.6L876.3 191.3L874.6 190.2L872.7 189.4L870.8 188.7L868.8 188.3L866.7 188.1L864.5 188.1L862.3 188.3L860.1 188.8L857.8 189.4L855.4 190.3L853.1 191.4L850.8 192.7L848.5 194.2L846.2 195.9L843.9 197.7L841.7 199.8L839.5 202L837.4 204.3L835.4 206.8L833.4 209.4L831.6 212.2L829.8 215L828.2 218L826.7 221L825.3 224.1L824 227.2L822.9 230.3L821.9 233.5L821.1 236.7L820.4 239.9L819.9 243L819.5 246.1L819.3 249.2L819.2 252.1L819.3 255L819.6 257.8L820 260.5L820.6 263L821.4 265.5L822.2 267.7L823.3 269.8L824.5 271.8L825.8 273.5L827.2 275.1L828.8 276.4L830.5 277.6L832.3 278.6Z" stroke="#000" stroke-width="1.8" fill="#fff"/>
<path d="M833.1 276.8L834.9 277.5L836.8 278L838.8 278.3L840.8 278.4L842.9 278.3L845.1 278L847.3 277.4L849.5 276.7L851.7 275.7L853.9 274.6L856.2 273.3L858.4 271.7L860.6 270L862.7 268.2L864.8 266.1L866.9 264L868.9 261.6L870.8 259.2L872.6 256.6L874.3 253.9L875.9 251.1L877.5 248.3L878.9 245.4L880.1 242.4L881.3 239.4L882.3 236.3L883.2 233.3L883.9 230.2L884.5 227.2L884.9 224.2L885.2 221.2L885.3 218.3L885.3 215.5L885.1 212.8L884.8 210.2L884.3 207.7L883.7 205.3L882.9 203.1L881.9 201L880.9 199L879.7 197.3L878.4 195.7L876.9 194.3L875.4 193L873.7 192L871.9 191.2L870.1 190.6L868.1 190.2L866.1 190L864.1 190L861.9 190.2L859.8 190.6L857.6 191.3L855.3 192.1L853.1 193.1L850.9 194.4L848.7 195.8L846.5 197.4L844.3 199.2L842.2 201.2L840.1 203.3L838.1 205.5L836.1 207.9L834.2 210.4L832.5 213.1L830.8 215.8L829.2 218.6L827.7 221.5L826.4 224.5L825.2 227.5L824.1 230.5L823.2 233.6L822.4 236.6L821.7 239.6L821.2 242.7L820.8 245.6L820.6 248.6L820.6 251.4L820.7 254.2L821 256.9L821.4 259.4L821.9 261.9L822.6 264.2L823.5 266.3L824.5 268.4L825.6 270.2L826.9 271.9L828.3 273.4L829.8 274.7L831.4 275.8L833.1 276.8Z" stroke="#000" stroke-width="1.0" fill="none"/>
<path d="M829.7 269.4L831.3 270.1L833 270.5L834.7 270.8L836.5 270.9L838.4 270.8L840.3 270.5L842.3 270L844.2 269.4L846.2 268.5L848.2 267.5L850.2 266.3L852.2 265L854.1 263.5L856 261.8L857.9 260L859.7 258L861.5 256L863.2 253.8L864.8 251.5L866.3 249.1L867.8 246.6L869.1 244.1L870.4 241.5L871.5 238.8L872.5 236.2L873.4 233.5L874.2 230.7L874.9 228L875.4 225.3L875.8 222.7L876 220L876.1 217.5L876.1 215L875.9 212.6L875.6 210.2L875.2 208L874.6 205.9L873.9 203.9L873.1 202L872.2 200.3L871.1 198.7L869.9 197.3L868.6 196L867.3 195L865.8 194.1L864.2 193.3L862.6 192.8L860.8 192.4L859.1 192.2L857.2 192.2L855.3 192.4L853.4 192.8L851.4 193.4L849.5 194.1L847.5 195.1L845.5 196.2L843.5 197.4L841.6 198.9L839.6 200.5L837.7 202.2L835.9 204.1L834.1 206.1L832.4 208.2L830.7 210.4L829.1 212.8L827.6 215.2L826.2 217.7L824.9 220.3L823.7 222.9L822.6 225.6L821.7 228.3L820.8 231L820.1 233.7L819.5 236.4L819.1 239.1L818.8 241.7L818.6 244.3L818.6 246.9L818.6 249.3L818.9 251.7L819.2 254L819.7 256.2L820.4 258.2L821.1 260.2L822 262L823 263.6L824.1 265.1L825.4 266.4L826.7 267.6L828.2 268.6L829.7 269.4Z" stroke="#000" stroke-width="1.2" fill="none"/>
<path d="M822.1 255.2L824.1 253.7L826.2 252.1L828.2 250.4L830.1 248.5L832 246.5L833.9 244.3L835.6 242L837.3 239.6L838.9 237.2L840.5 234.6L841.9 231.9L843.2 229.2L844.4 226.5L845.5 223.7L846.4 220.9L847.3 218L848 215.2L848.6 212.4L849 209.6L849.3 206.8L849.5 204.1L849.5 201.5L849.4 198.9" stroke="#000" stroke-width="1.2" fill="none"/>
<path d="M883.3 325.5L886 326.6L888.8 327.4L891.7 327.8L894.8 328L897.9 327.8L901.1 327.3L904.4 326.5L907.7 325.4L911 324L914.3 322.3L917.6 320.3L920.9 318.1L924.2 315.5L927.4 312.8L930.5 309.7L933.6 306.5L936.5 303L939.4 299.3L942.1 295.5L944.7 291.5L947.1 287.4L949.4 283.1L951.4 278.8L953.3 274.3L955.1 269.8L956.6 265.3L957.9 260.7L958.9 256.2L959.8 251.7L960.5 247.2L960.9 242.8L961.1 238.5L961 234.3L960.8 230.3L960.3 226.4L959.5 222.7L958.6 219.1L957.4 215.8L956 212.6L954.5 209.8L952.7 207.1L950.7 204.8L948.5 202.7L946.2 200.8L943.7 199.3L941.1 198.1L938.4 197.2L935.5 196.6L932.5 196.3L929.4 196.3L926.2 196.6L923 197.2L919.7 198.2L916.4 199.4L913.1 201L909.8 202.8L906.5 205L903.2 207.4L899.9 210L896.8 212.9L893.7 216.1L890.7 219.4L887.8 223L885 226.8L882.3 230.7L879.8 234.8L877.5 239L875.3 243.3L873.3 247.7L871.5 252.1L869.9 256.6L868.5 261.2L867.3 265.7L866.3 270.3L865.6 274.8L865 279.2L864.7 283.5L864.7 287.8L864.8 291.9L865.2 295.9L865.8 299.7L866.7 303.4L867.7 306.8L869 310L870.5 313L872.1 315.8L874 318.3L876.1 320.5L878.3 322.5L880.7 324.2L883.3 325.5ZM905.4 335.9L908.1 336.9L910.9 337.7L913.9 338.2L916.9 338.3L920 338.1L923.2 337.6L926.5 336.8L929.8 335.7L933.1 334.3L936.4 332.6L939.7 330.6L943 328.4L946.3 325.8L949.5 323.1L952.6 320L955.7 316.8L958.6 313.3L961.5 309.7L964.2 305.8L966.8 301.8L969.2 297.7L971.5 293.4L973.6 289.1L975.5 284.6L977.2 280.1L978.7 275.6L980 271.1L981.1 266.5L981.9 262L982.6 257.5L983 253.1L983.2 248.8L983.1 244.7L982.9 240.6L982.4 236.7L981.6 233L980.7 229.4L979.5 226.1L978.2 223L976.6 220.1L974.8 217.4L972.8 215.1L970.7 213L968.3 211.1L965.9 209.6L963.2 208.4L960.5 207.5L957.6 206.9L954.6 206.6L951.5 206.6L948.3 206.9L945.1 207.6L941.8 208.5L938.5 209.8L935.2 211.3L931.9 213.2L928.6 215.3L925.3 217.7L922.1 220.3L918.9 223.3L915.8 226.4L912.8 229.8L909.9 233.3L907.1 237.1L904.5 241L902 245.1L899.6 249.3L897.4 253.6L895.4 258L893.6 262.4L892 267L890.6 271.5L889.4 276L888.4 280.6L887.7 285.1L887.2 289.5L886.8 293.8L886.8 298.1L886.9 302.2L887.3 306.2L887.9 310L888.8 313.7L889.8 317.1L891.1 320.3L892.6 323.3L894.3 326.1L896.1 328.6L898.2 330.9L900.4 332.8L902.8 334.5L905.4 335.9ZM883.3 325.5L905.4 335.9L964.6 209L942.5 198.7Z" fill="#fff" stroke="none"/>
<path d="M883.3 325.5L905.4 335.9M942.5 198.7L964.6 209" stroke="#000" stroke-width="1.5" fill="none"/>
<path d="M942.5 198.7L939.8 197.6L937 196.8L934.1 196.4L931.1 196.2L928 196.4L924.8 196.8L921.6 197.6L918.4 198.7L915.1 200L911.8 201.7L908.5 203.6L905.2 205.8L902 208.3L898.8 211L895.7 214L892.7 217.2L889.7 220.5L886.9 224.1L884.2 227.9L881.6 231.8L879.2 235.9L876.9 240.1L874.8 244.4L872.9 248.7L871.1 253.2L869.6 257.6L868.2 262.1L867.1 266.6L866.2 271.1L865.5 275.5L865 279.9L864.7 284.2L864.7 288.4L864.9 292.4L865.3 296.4L865.9 300.1L866.7 303.7L867.8 307.1L869.1 310.3L870.6 313.2L872.2 315.9L874.1 318.4L876.2 320.6L878.4 322.5L880.8 324.2L883.3 325.5" stroke="#000" stroke-width="1.5" fill="none"/>
<path d="M905.4 335.9L908.1 336.9L910.9 337.7L913.9 338.2L916.9 338.3L920 338.1L923.2 337.6L926.5 336.8L929.8 335.7L933.1 334.3L936.4 332.6L939.7 330.6L943 328.4L946.3 325.8L949.5 323.1L952.6 320L955.7 316.8L958.6 313.3L961.5 309.7L964.2 305.8L966.8 301.8L969.2 297.7L971.5 293.4L973.6 289.1L975.5 284.6L977.2 280.1L978.7 275.6L980 271.1L981.1 266.5L981.9 262L982.6 257.5L983 253.1L983.2 248.8L983.1 244.7L982.9 240.6L982.4 236.7L981.6 233L980.7 229.4L979.5 226.1L978.2 223L976.6 220.1L974.8 217.4L972.8 215.1L970.7 213L968.3 211.1L965.9 209.6L963.2 208.4L960.5 207.5L957.6 206.9L954.6 206.6L951.5 206.6L948.3 206.9L945.1 207.6L941.8 208.5L938.5 209.8L935.2 211.3L931.9 213.2L928.6 215.3L925.3 217.7L922.1 220.3L918.9 223.3L915.8 226.4L912.8 229.8L909.9 233.3L907.1 237.1L904.5 241L902 245.1L899.6 249.3L897.4 253.6L895.4 258L893.6 262.4L892 267L890.6 271.5L889.4 276L888.4 280.6L887.7 285.1L887.2 289.5L886.8 293.8L886.8 298.1L886.9 302.2L887.3 306.2L887.9 310L888.8 313.7L889.8 317.1L891.1 320.3L892.6 323.3L894.3 326.1L896.1 328.6L898.2 330.9L900.4 332.8L902.8 334.5L905.4 335.9Z" stroke="#000" stroke-width="1.5" fill="#fff"/>
<path d="M905.4 335.9L908.1 336.9L910.9 337.7L913.9 338.2L916.9 338.3L920 338.1L923.2 337.6L926.5 336.8L929.8 335.7L933.1 334.3L936.4 332.6L939.7 330.6L943 328.4L946.3 325.8L949.5 323.1L952.6 320L955.7 316.8L958.6 313.3L961.5 309.7L964.2 305.8L966.8 301.8L969.2 297.7L971.5 293.4L973.6 289.1L975.5 284.6L977.2 280.1L978.7 275.6L980 271.1L981.1 266.5L981.9 262L982.6 257.5L983 253.1L983.2 248.8L983.1 244.7L982.9 240.6L982.4 236.7L981.6 233L980.7 229.4L979.5 226.1L978.2 223L976.6 220.1L974.8 217.4L972.8 215.1L970.7 213L968.3 211.1L965.9 209.6L963.2 208.4L960.5 207.5L957.6 206.9L954.6 206.6L951.5 206.6L948.3 206.9L945.1 207.6L941.8 208.5L938.5 209.8L935.2 211.3L931.9 213.2L928.6 215.3L925.3 217.7L922.1 220.3L918.9 223.3L915.8 226.4L912.8 229.8L909.9 233.3L907.1 237.1L904.5 241L902 245.1L899.6 249.3L897.4 253.6L895.4 258L893.6 262.4L892 267L890.6 271.5L889.4 276L888.4 280.6L887.7 285.1L887.2 289.5L886.8 293.8L886.8 298.1L886.9 302.2L887.3 306.2L887.9 310L888.8 313.7L889.8 317.1L891.1 320.3L892.6 323.3L894.3 326.1L896.1 328.6L898.2 330.9L900.4 332.8L902.8 334.5L905.4 335.9Z" stroke="#000" stroke-width="1.5" fill="#fff"/>
<path d="M913.1 229.8L910.3 233.2L907.5 236.9L904.9 240.7L902.5 244.7L900.2 248.7L898 252.9L896 257.2L894.2 261.6L892.6 266L891.2 270.4L890 274.9L888.9 279.3L888.1 283.7L887.6 288.1L887.2 292.3L887.1 296.5L887.1 300.6L887.4 304.5L887.9 308.3L888.7 312L889.6 315.4L890.8 318.7L892.1 321.7L893.7 324.5L895.4 327.1L897.3 329.4L899.4 331.5L901.7 333.3L904.1 334.8L906.7 336L909.4 336.9L912.2 337.5L915.1 337.9L918.1 337.9L921.2 337.6L924.3 337" stroke="#000" stroke-width="2.4" fill="none"/>
<ellipse cx="900.8" cy="222.6" rx="5.4" ry="2.9" transform="rotate(-38 900.8 222.6)" fill="#fff" stroke="#000" stroke-width="1.2"/>
<circle cx="882" cy="249.3" r="2.7" fill="#fff" stroke="#000" stroke-width="1.1"/>
<ellipse cx="940.7" cy="219.7" rx="2" ry="3" transform="rotate(18 940.7 219.7)" fill="#fff" stroke="#000" stroke-width="1.1"/>
<path d="M915.1 315.1L916.9 315.8L918.8 316.3L920.8 316.6L922.8 316.7L924.9 316.6L927.1 316.3L929.3 315.8L931.5 315L933.7 314.1L935.9 312.9L938.2 311.6L940.4 310.1L942.6 308.4L944.8 306.5L946.9 304.5L948.9 302.3L950.9 299.9L952.8 297.5L954.6 294.9L956.4 292.2L958 289.4L959.5 286.6L960.9 283.6L962.2 280.6L963.4 277.6L964.4 274.6L965.3 271.5L966 268.4L966.6 265.4L967 262.4L967.3 259.5L967.4 256.6L967.4 253.7L967.2 251L966.9 248.4L966.4 245.9L965.7 243.5L965 241.2L964 239.1L963 237.2L961.8 235.4L960.4 233.8L959 232.4L957.4 231.2L955.8 230.2L954 229.3L952.1 228.7L950.2 228.3L948.2 228.1L946.1 228.1L944 228.3L941.8 228.8L939.6 229.4L937.4 230.3L935.1 231.3L932.9 232.5L930.7 234L928.5 235.6L926.3 237.4L924.1 239.3L922.1 241.5L920 243.7L918.1 246.1L916.2 248.6L914.4 251.3L912.8 254L911.2 256.8L909.7 259.7L908.4 262.7L907.2 265.7L906.1 268.7L905.1 271.8L904.3 274.9L903.7 277.9L903.2 280.9L902.8 283.9L902.6 286.8L902.5 289.7L902.7 292.5L902.9 295.1L903.3 297.7L903.9 300.2L904.6 302.5L905.5 304.7L906.5 306.7L907.6 308.5L908.8 310.2L910.2 311.7L911.7 313.1L913.4 314.2L915.1 315.1Z" stroke="#000" stroke-width="1.4" fill="#fff"/>
<path d="M936.2 312.4L938.4 311L940.6 309.5L942.8 307.8L944.9 305.9L947 303.8L949.1 301.6L951 299.3L952.9 296.8L954.7 294.2L956.4 291.5L958 288.8L959.5 285.9L960.9 283L962.1 280L963.3 277L964.3 273.9L965.1 270.9L965.8 267.9L966.3 264.8L966.7 261.9L967 258.9L967.1 256.1L967 253.3L966.8 250.6L966.4 248L965.9 245.5L965.2 243.2L964.4 241L963.5 239L962.4 237.1L961.1 235.4L959.8 233.8L958.3 232.5L956.7 231.3L955 230.4L953.2 229.6L951.4 229L949.4 228.7L947.4 228.6L945.3 228.6L943.2 228.9L941 229.4L938.8 230.1L936.6 231" stroke="#000" stroke-width="2.6" fill="none"/>
<path d="M935.6 231.9L933.5 232.9L931.4 234.2L929.2 235.6L927.1 237.2L925.1 239L923 240.9L921.1 242.9L919.2 245.1L917.3 247.5L915.6 249.9L913.9 252.5L912.3 255.1L910.8 257.8L909.5 260.6L908.2 263.4L907.1 266.3L906.1 269.2L905.2 272.2L904.5 275.1L903.9 278L903.4 280.9L903.1 283.7L903 286.5L903 289.2L903.1 291.8L903.4 294.4L903.8 296.8L904.4 299.1L905.1 301.3L905.9 303.3L906.9 305.2L908 307L909.2 308.6L910.6 310L912 311.2L913.6 312.2L915.2 313.1L917 313.7L918.8 314.2L920.7 314.5L922.7 314.5L924.7 314.4L926.8 314.1L928.9 313.5L931 312.8L933.1 311.9L935.2 310.7" stroke="#000" stroke-width="0.9" fill="none"/>
<path d="M935.3 250Q934 259 932.1 263.9Q930.3 268.8 927.4 273.9Q924.5 279 920.5 283.3Q916.5 287.6 910.2 292.3L903.9 297" stroke="#000" stroke-width="1.3" fill="none"/>
<path d="M942.8 258.8Q941 267 939.4 271.1Q937.8 275.1 935.1 279.8Q932.5 284.5 928.9 288.6Q925.2 292.7 918.3 297L911.4 301.4" stroke="#000" stroke-width="1.3" fill="none"/>
<path d="M946.6 261.3Q944.5 272 942.4 277.3Q940.3 282.6 937.6 286.8Q935 291 931.4 294.4Q927.8 297.7 922.8 300.9L917.7 304" stroke="#000" stroke-width="1.3" fill="none"/>
<path d="M957.9 265.1Q956 273.5 954.4 277.4Q952.8 281.4 950.1 286.4Q947.5 291.5 943.9 295.9Q940.3 300.2 936.6 302.9Q933 305.5 929.1 307.2L925.2 309" stroke="#000" stroke-width="1.3" fill="none"/>
<path d="M942.2 258.8L957.9 265.7L960.4 252" stroke="#000" stroke-width="1.3" fill="none"/>
<path d="M911.2 302L924.5 308.3L924.9 311" stroke="#000" stroke-width="1.3" fill="none"/>
<path d="M907.7 308.7Q915.5 312 923.8 308.7" stroke="#000" stroke-width="1.1" fill="none"/>
<path d="M908.8 311.4Q916.3 315.6 924.6 311.2" stroke="#000" stroke-width="1.1" fill="none"/>
<path d="M936.7 232.2L935.2 247.8L937.1 247.8L938.7 231.4" stroke="#000" stroke-width="1.1" fill="none"/>
<path d="M939.9 232L940.7 233.7L953.9 239.2L954.7 232.6" stroke="#000" stroke-width="1.2" fill="none"/>
<path d="M953.9 239.2L956.3 245.5L957.6 256L957.9 265.1" stroke="#000" stroke-width="1.1" fill="none"/>
<path d="M954.3 231.6Q958.6 241 960.2 252L960.4 258" stroke="#000" stroke-width="1.1" fill="none"/>
<path d="M925 239.2L935.6 235.7" stroke="#000" stroke-width="1.1" fill="none"/>
<path d="M925 239.2L924.2 252.1" stroke="#000" stroke-width="1.1" fill="none"/>
<path d="M914.9 252.9Q920 253.2 924.2 252.1T935.2 248.2" stroke="#000" stroke-width="1.1" fill="none"/>
<path d="M930.5 236.1L936 233.7" stroke="#000" stroke-width="0.9" fill="none"/>
<path d="M934.4 249.4L935.3 250" stroke="#000" stroke-width="1.1" fill="none"/>
<path d="M902.7 208.2L915.2 214.5L925.2 217.6L935.3 213.8L940 209" stroke="#000" stroke-width="1.1" fill="none"/>
<path d="M903 203L903 208.2L915.2 214.5L925.2 217.6L935.3 213.8L946 206L946 200Z" fill="#fff" stroke="none"/>
<path d="M902.7 208.2L915.2 214.5L925.2 217.6L935.3 213.8" stroke="#000" stroke-width="1.1" fill="none"/>
<path d="M915.2 209L915.2 214.5" stroke="#000" stroke-width="1.0" fill="none"/>
<path d="M918.5 210L918.5 215.5" stroke="#000" stroke-width="1.0" fill="none"/>
<path d="M930.3 211.5L930.3 215.7" stroke="#000" stroke-width="1.0" fill="none"/>
<path d="M926.5 211.5L926.5 217.2" stroke="#000" stroke-width="1.0" fill="none"/>
<path d="M885.5 184.1L885.4 185.5L885.6 186.9L886 188.2L886.6 189.6L887.4 191L888.4 192.4L889.7 193.7L891.1 195.1L892.7 196.4L894.4 197.6L896.4 198.9L898.5 200L900.8 201.2L903.2 202.2L905.7 203.2L908.3 204.2L911.1 205L913.9 205.8L916.9 206.5L919.8 207.1L922.9 207.6L926 208.1L929 208.4L932.1 208.7L935.2 208.9L938.3 208.9L941.3 208.9L944.3 208.8L947.2 208.5L950.1 208.2L952.8 207.8L955.4 207.3L957.9 206.7L960.3 206.1L962.5 205.3L964.6 204.5L966.5 203.6L968.3 202.6L969.8 201.6L971.2 200.5L972.4 199.3L973.4 198.1L974.2 196.8L974.7 195.6L975.1 194.2L975.2 192.9L975.1 191.5L974.9 190.1L974.4 188.8L973.7 187.4L972.7 186L971.6 184.6L970.3 183.3L968.8 182L967.1 180.7L965.3 179.4L963.2 178.2L961 177.1L958.7 176L956.2 175L953.6 174L950.9 173.1L948.1 172.3L945.3 171.5L942.3 170.9L939.3 170.3L936.2 169.8L933.1 169.4L930.1 169.1L927 168.9L923.9 168.8L920.8 168.8L917.8 168.9L914.9 169L912 169.3L909.2 169.7L906.5 170.1L904 170.7L901.5 171.3L899.2 172L897.1 172.8L895.1 173.7L893.2 174.6L891.6 175.6L890.1 176.7L888.8 177.8L887.7 179L886.9 180.2L886.2 181.5L885.7 182.8L885.5 184.1ZM886.6 188.2L886.5 189.5L886.7 190.8L887.1 192.1L887.7 193.5L888.4 194.8L889.4 196.1L890.6 197.5L892 198.7L893.5 200L895.2 201.2L897.1 202.4L899.1 203.5L901.3 204.6L903.7 205.7L906.1 206.6L908.7 207.5L911.3 208.4L914.1 209.1L916.9 209.8L919.8 210.4L922.7 210.9L925.7 211.3L928.7 211.7L931.7 211.9L934.7 212.1L937.6 212.1L940.6 212.1L943.4 212L946.3 211.8L949 211.5L951.6 211.1L954.2 210.6L956.6 210L958.9 209.4L961.1 208.6L963.1 207.8L964.9 207L966.6 206L968.1 205L969.5 203.9L970.6 202.8L971.5 201.7L972.3 200.5L972.8 199.2L973.2 197.9L973.3 196.6L973.3 195.3L973 194L972.5 192.6L971.8 191.3L970.9 190L969.8 188.6L968.6 187.3L967.1 186.1L965.5 184.8L963.7 183.6L961.7 182.5L959.6 181.4L957.4 180.3L955 179.3L952.5 178.4L949.9 177.5L947.1 176.7L944.4 176L941.5 175.3L938.6 174.8L935.6 174.3L932.6 173.9L929.7 173.7L926.7 173.5L923.7 173.3L920.7 173.3L917.8 173.4L915 173.6L912.2 173.8L909.5 174.2L906.9 174.6L904.4 175.1L902.1 175.7L899.8 176.4L897.7 177.2L895.8 178L894 178.9L892.4 179.9L891 181L889.8 182.1L888.7 183.2L887.9 184.4L887.2 185.6L886.8 186.9L886.6 188.2ZM885.5 184.1L886.6 188.2L973.3 197.3L975.2 193.6Z" fill="#fff" stroke="none"/>
<path d="M885.5 184.1L886.6 188.2M975.2 193.6L973.3 197.3" stroke="#000" stroke-width="1.3" fill="none"/>
<path d="M886.6 188.2L886.5 189.5L886.7 190.8L887.1 192.1L887.6 193.4L888.4 194.7L889.4 196.1L890.5 197.4L891.8 198.6L893.3 199.9L895 201.1L896.9 202.3L898.9 203.4L901 204.5L903.3 205.5L905.7 206.5L908.2 207.4L910.8 208.2L913.5 209L916.3 209.7L919.2 210.3L922 210.8L925 211.2L927.9 211.6L930.9 211.9L933.9 212L936.8 212.1L939.7 212.1L942.6 212L945.4 211.8L948.1 211.6L950.8 211.2L953.3 210.8L955.7 210.2L958.1 209.6L960.3 208.9L962.3 208.2L964.2 207.3L965.9 206.4L967.5 205.4L968.9 204.4L970.1 203.3L971.1 202.2L972 201L972.6 199.8L973 198.6L973.3 197.3" stroke="#000" stroke-width="1.3" fill="none"/>
<path d="M885.5 184.1L885.4 185.5L885.6 186.9L886 188.2L886.6 189.6L887.4 191L888.4 192.4L889.7 193.7L891.1 195.1L892.7 196.4L894.4 197.6L896.4 198.9L898.5 200L900.8 201.2L903.2 202.2L905.7 203.2L908.3 204.2L911.1 205L913.9 205.8L916.9 206.5L919.8 207.1L922.9 207.6L926 208.1L929 208.4L932.1 208.7L935.2 208.9L938.3 208.9L941.3 208.9L944.3 208.8L947.2 208.5L950.1 208.2L952.8 207.8L955.4 207.3L957.9 206.7L960.3 206.1L962.5 205.3L964.6 204.5L966.5 203.6L968.3 202.6L969.8 201.6L971.2 200.5L972.4 199.3L973.4 198.1L974.2 196.8L974.7 195.6L975.1 194.2L975.2 192.9L975.1 191.5L974.9 190.1L974.4 188.8L973.7 187.4L972.7 186L971.6 184.6L970.3 183.3L968.8 182L967.1 180.7L965.3 179.4L963.2 178.2L961 177.1L958.7 176L956.2 175L953.6 174L950.9 173.1L948.1 172.3L945.3 171.5L942.3 170.9L939.3 170.3L936.2 169.8L933.1 169.4L930.1 169.1L927 168.9L923.9 168.8L920.8 168.8L917.8 168.9L914.9 169L912 169.3L909.2 169.7L906.5 170.1L904 170.7L901.5 171.3L899.2 172L897.1 172.8L895.1 173.7L893.2 174.6L891.6 175.6L890.1 176.7L888.8 177.8L887.7 179L886.9 180.2L886.2 181.5L885.7 182.8L885.5 184.1Z" stroke="#000" stroke-width="1.3" fill="#fff"/>
<path d="M887.6 164.2L887.5 165.6L887.7 167L888.1 168.4L888.7 169.7L889.5 171.1L890.5 172.5L891.7 173.8L893.2 175.2L894.8 176.5L896.5 177.7L898.5 179L900.6 180.1L902.8 181.3L905.2 182.3L907.8 183.3L910.4 184.3L913.2 185.1L916 185.9L918.9 186.6L921.9 187.2L925 187.8L928 188.2L931.1 188.5L934.2 188.8L937.3 189L940.4 189L943.4 189L946.4 188.9L949.3 188.6L952.1 188.3L954.9 187.9L957.5 187.4L960 186.8L962.4 186.2L964.6 185.4L966.7 184.6L968.6 183.7L970.4 182.7L971.9 181.7L973.3 180.6L974.5 179.4L975.5 178.2L976.2 177L976.8 175.7L977.2 174.3L977.3 173L977.2 171.6L977 170.2L976.5 168.9L975.7 167.5L974.8 166.1L973.7 164.7L972.4 163.4L970.9 162.1L969.2 160.8L967.3 159.5L965.3 158.3L963.1 157.2L960.8 156.1L958.3 155.1L955.7 154.1L953 153.2L950.2 152.4L947.4 151.6L944.4 151L941.4 150.4L938.3 149.9L935.2 149.5L932.1 149.2L929 149L926 148.9L922.9 148.9L919.9 149L917 149.1L914.1 149.4L911.3 149.8L908.6 150.2L906.1 150.8L903.6 151.4L901.3 152.1L899.1 152.9L897.1 153.8L895.3 154.7L893.7 155.7L892.2 156.8L890.9 157.9L889.8 159.1L888.9 160.3L888.3 161.6L887.8 162.9L887.6 164.2ZM885.5 184.1L885.4 185.5L885.6 186.9L886 188.2L886.6 189.6L887.4 191L888.4 192.4L889.7 193.7L891.1 195.1L892.7 196.4L894.4 197.6L896.4 198.9L898.5 200L900.8 201.2L903.2 202.2L905.7 203.2L908.3 204.2L911.1 205L913.9 205.8L916.9 206.5L919.8 207.1L922.9 207.6L926 208.1L929 208.4L932.1 208.7L935.2 208.9L938.3 208.9L941.3 208.9L944.3 208.8L947.2 208.5L950.1 208.2L952.8 207.8L955.4 207.3L957.9 206.7L960.3 206.1L962.5 205.3L964.6 204.5L966.5 203.6L968.3 202.6L969.8 201.6L971.2 200.5L972.4 199.3L973.4 198.1L974.2 196.8L974.7 195.6L975.1 194.2L975.2 192.9L975.1 191.5L974.9 190.1L974.4 188.8L973.7 187.4L972.7 186L971.6 184.6L970.3 183.3L968.8 182L967.1 180.7L965.3 179.4L963.2 178.2L961 177.1L958.7 176L956.2 175L953.6 174L950.9 173.1L948.1 172.3L945.3 171.5L942.3 170.9L939.3 170.3L936.2 169.8L933.1 169.4L930.1 169.1L927 168.9L923.9 168.8L920.8 168.8L917.8 168.9L914.9 169L912 169.3L909.2 169.7L906.5 170.1L904 170.7L901.5 171.3L899.2 172L897.1 172.8L895.1 173.7L893.2 174.6L891.6 175.6L890.1 176.7L888.8 177.8L887.7 179L886.9 180.2L886.2 181.5L885.7 182.8L885.5 184.1ZM887.6 164.2L885.5 184.1L975.2 193.6L977.3 173.7Z" fill="#fff" stroke="none"/>
<path d="M887.6 164.2L885.5 184.1M977.3 173.7L975.2 193.6" stroke="#000" stroke-width="1.5" fill="none"/>
<path d="M885.5 184.1L885.4 185.5L885.6 186.8L886 188.2L886.6 189.6L887.4 190.9L888.4 192.3L889.6 193.6L890.9 195L892.5 196.2L894.2 197.5L896.1 198.7L898.2 199.9L900.4 201L902.8 202.1L905.3 203.1L907.9 204L910.6 204.9L913.4 205.7L916.2 206.4L919.2 207L922.2 207.5L925.2 208L928.3 208.4L931.3 208.6L934.4 208.8L937.4 208.9L940.5 208.9L943.4 208.8L946.3 208.6L949.1 208.3L951.9 208L954.5 207.5L957 207L959.4 206.3L961.7 205.6L963.8 204.8L965.8 203.9L967.6 203L969.2 202L970.6 200.9L971.9 199.8L973 198.6L973.8 197.4L974.5 196.2L974.9 194.9L975.2 193.6" stroke="#000" stroke-width="1.5" fill="none"/>
<path d="M887.6 164.2L887.5 165.6L887.7 167L888.1 168.4L888.7 169.7L889.5 171.1L890.5 172.5L891.7 173.8L893.2 175.2L894.8 176.5L896.5 177.7L898.5 179L900.6 180.1L902.8 181.3L905.2 182.3L907.8 183.3L910.4 184.3L913.2 185.1L916 185.9L918.9 186.6L921.9 187.2L925 187.8L928 188.2L931.1 188.5L934.2 188.8L937.3 189L940.4 189L943.4 189L946.4 188.9L949.3 188.6L952.1 188.3L954.9 187.9L957.5 187.4L960 186.8L962.4 186.2L964.6 185.4L966.7 184.6L968.6 183.7L970.4 182.7L971.9 181.7L973.3 180.6L974.5 179.4L975.5 178.2L976.2 177L976.8 175.7L977.2 174.3L977.3 173L977.2 171.6L977 170.2L976.5 168.9L975.7 167.5L974.8 166.1L973.7 164.7L972.4 163.4L970.9 162.1L969.2 160.8L967.3 159.5L965.3 158.3L963.1 157.2L960.8 156.1L958.3 155.1L955.7 154.1L953 153.2L950.2 152.4L947.4 151.6L944.4 151L941.4 150.4L938.3 149.9L935.2 149.5L932.1 149.2L929 149L926 148.9L922.9 148.9L919.9 149L917 149.1L914.1 149.4L911.3 149.8L908.6 150.2L906.1 150.8L903.6 151.4L901.3 152.1L899.1 152.9L897.1 153.8L895.3 154.7L893.7 155.7L892.2 156.8L890.9 157.9L889.8 159.1L888.9 160.3L888.3 161.6L887.8 162.9L887.6 164.2Z" stroke="#000" stroke-width="1.5" fill="#fff"/>
<path d="M889.5 172L887.5 191.1" stroke="#000" stroke-width="1.2" fill="none"/>
<path d="M892.4 175.3L890.3 194.4" stroke="#000" stroke-width="1.2" fill="none"/>
<path d="M895.8 178.1L893.8 197.2" stroke="#000" stroke-width="1.2" fill="none"/>
<path d="M900.8 181.1L898.8 200.2" stroke="#000" stroke-width="1.2" fill="none"/>
<path d="M906.5 183.7L904.5 202.8" stroke="#000" stroke-width="1.2" fill="none"/>
<path d="M913.6 186.1L911.6 205.2" stroke="#000" stroke-width="1.2" fill="none"/>
<path d="M919.7 187.6L917.7 206.7" stroke="#000" stroke-width="1.2" fill="none"/>
<path d="M928.3 189L926.3 208.1" stroke="#000" stroke-width="1.2" fill="none"/>
<path d="M935.1 189.7L933.1 208.7" stroke="#000" stroke-width="1.2" fill="none"/>
<path d="M943.6 189.8L941.6 208.9" stroke="#000" stroke-width="1.2" fill="none"/>
<path d="M951.2 189.2L949.2 208.3" stroke="#000" stroke-width="1.2" fill="none"/>
<path d="M958.3 188L956.3 207.1" stroke="#000" stroke-width="1.2" fill="none"/>
<path d="M963.4 186.6L961.4 205.7" stroke="#000" stroke-width="1.2" fill="none"/>
<path d="M968.6 184.5L966.6 203.5" stroke="#000" stroke-width="1.2" fill="none"/>
<path d="M972.6 181.9L970.6 201" stroke="#000" stroke-width="1.2" fill="none"/>
<path d="M974.6 180L972.6 199.1" stroke="#000" stroke-width="1.2" fill="none"/>
<path d="M887.6 164.2L887.5 165.6L887.7 166.9L888.1 168.3L888.7 169.7L889.5 171L890.5 172.4L891.6 173.7L893 175.1L894.6 176.4L896.3 177.6L898.2 178.8L900.3 180L902.5 181.1L904.9 182.2L907.4 183.2L910 184.1L912.7 185L915.5 185.8L918.3 186.5L921.3 187.1L924.3 187.6L927.3 188.1L930.4 188.5L933.4 188.7L936.5 188.9L939.5 189L942.5 189L945.5 188.9L948.4 188.7L951.2 188.4L954 188.1L956.6 187.6L959.1 187.1L961.5 186.4L963.8 185.7L965.9 184.9L967.9 184.1L969.7 183.1L971.3 182.1L972.7 181.1L974 179.9L975.1 178.8L975.9 177.5L976.6 176.3L977 175L977.3 173.7" stroke="#000" stroke-width="2.2" fill="none"/>
<path d="M889.7 144.9L889.7 146.2L889.8 147.6L890.2 149L890.8 150.3L891.6 151.7L892.7 153.1L893.9 154.4L895.3 155.8L896.9 157.1L898.6 158.3L900.6 159.6L902.7 160.7L904.9 161.8L907.3 162.9L909.9 163.9L912.5 164.8L915.3 165.7L918.1 166.5L921 167.2L924 167.8L927 168.3L930.1 168.8L933.2 169.1L936.3 169.4L939.4 169.5L942.4 169.6L945.4 169.6L948.4 169.4L951.3 169.2L954.1 168.9L956.9 168.5L959.5 168L962 167.4L964.4 166.7L966.6 166L968.7 165.2L970.6 164.3L972.3 163.3L973.9 162.2L975.3 161.1L976.4 160L977.4 158.8L978.2 157.5L978.8 156.3L979.1 154.9L979.3 153.6L979.2 152.2L978.9 150.9L978.4 149.5L977.7 148.1L976.8 146.7L975.7 145.4L974.4 144L972.9 142.7L971.2 141.4L969.3 140.2L967.3 139L965.1 137.8L962.8 136.7L960.3 135.7L957.7 134.7L955 133.8L952.2 133L949.4 132.3L946.4 131.6L943.4 131.1L940.3 130.6L937.3 130.2L934.2 129.9L931.1 129.7L928 129.6L925 129.5L922 129.6L919 129.8L916.2 130.1L913.4 130.4L910.7 130.9L908.1 131.4L905.7 132L903.4 132.7L901.3 133.5L899.3 134.4L897.4 135.3L895.8 136.3L894.3 137.4L893 138.5L892 139.7L891.1 141L890.4 142.2L889.9 143.5L889.7 144.9ZM887.7 164.3L887.6 165.6L887.8 167L888.2 168.4L888.8 169.7L889.6 171.1L890.6 172.5L891.8 173.8L893.2 175.2L894.8 176.5L896.6 177.7L898.6 178.9L900.7 180.1L902.9 181.2L905.3 182.3L907.8 183.3L910.5 184.2L913.2 185.1L916.1 185.9L919 186.6L922 187.2L925 187.7L928.1 188.2L931.1 188.5L934.2 188.8L937.3 188.9L940.4 189L943.4 189L946.4 188.8L949.3 188.6L952.1 188.3L954.8 187.9L957.5 187.4L960 186.8L962.3 186.1L964.6 185.4L966.6 184.6L968.5 183.7L970.3 182.7L971.8 181.6L973.2 180.5L974.4 179.4L975.4 178.2L976.2 176.9L976.7 175.6L977.1 174.3L977.2 173L977.1 171.6L976.9 170.2L976.4 168.9L975.7 167.5L974.7 166.1L973.6 164.7L972.3 163.4L970.8 162.1L969.1 160.8L967.3 159.6L965.2 158.4L963.1 157.2L960.7 156.1L958.3 155.1L955.7 154.1L953 153.2L950.2 152.4L947.3 151.7L944.4 151L941.4 150.4L938.3 150L935.2 149.6L932.1 149.3L929.1 149.1L926 148.9L922.9 148.9L919.9 149L917 149.2L914.1 149.4L911.4 149.8L908.7 150.3L906.1 150.8L903.7 151.4L901.4 152.1L899.2 152.9L897.2 153.8L895.4 154.7L893.7 155.7L892.3 156.8L891 157.9L889.9 159.1L889 160.3L888.4 161.6L887.9 162.9L887.7 164.3ZM889.7 144.9L887.7 164.3L977.2 173.7L979.2 154.3Z" fill="#fff" stroke="none"/>
<path d="M889.7 144.9L887.7 164.3M979.2 154.3L977.2 173.7" stroke="#000" stroke-width="1.5" fill="none"/>
<path d="M887.7 164.3L887.6 165.6L887.8 166.9L888.2 168.3L888.8 169.7L889.6 171L890.6 172.4L891.7 173.7L893.1 175.1L894.7 176.3L896.4 177.6L898.3 178.8L900.4 180L902.6 181.1L904.9 182.1L907.4 183.1L910 184.1L912.7 184.9L915.5 185.7L918.4 186.4L921.3 187.1L924.3 187.6L927.3 188.1L930.4 188.4L933.4 188.7L936.5 188.9L939.5 189L942.5 189L945.5 188.9L948.4 188.7L951.2 188.4L953.9 188L956.6 187.6L959.1 187L961.5 186.4L963.7 185.7L965.8 184.9L967.8 184L969.6 183.1L971.2 182.1L972.6 181L973.9 179.9L975 178.7L975.8 177.5L976.5 176.3L976.9 175L977.2 173.7" stroke="#000" stroke-width="1.5" fill="none"/>
<path d="M889.7 144.9L889.7 146.2L889.8 147.6L890.2 149L890.8 150.3L891.6 151.7L892.7 153.1L893.9 154.4L895.3 155.8L896.9 157.1L898.6 158.3L900.6 159.6L902.7 160.7L904.9 161.8L907.3 162.9L909.9 163.9L912.5 164.8L915.3 165.7L918.1 166.5L921 167.2L924 167.8L927 168.3L930.1 168.8L933.2 169.1L936.3 169.4L939.4 169.5L942.4 169.6L945.4 169.6L948.4 169.4L951.3 169.2L954.1 168.9L956.9 168.5L959.5 168L962 167.4L964.4 166.7L966.6 166L968.7 165.2L970.6 164.3L972.3 163.3L973.9 162.2L975.3 161.1L976.4 160L977.4 158.8L978.2 157.5L978.8 156.3L979.1 154.9L979.3 153.6L979.2 152.2L978.9 150.9L978.4 149.5L977.7 148.1L976.8 146.7L975.7 145.4L974.4 144L972.9 142.7L971.2 141.4L969.3 140.2L967.3 139L965.1 137.8L962.8 136.7L960.3 135.7L957.7 134.7L955 133.8L952.2 133L949.4 132.3L946.4 131.6L943.4 131.1L940.3 130.6L937.3 130.2L934.2 129.9L931.1 129.7L928 129.6L925 129.5L922 129.6L919 129.8L916.2 130.1L913.4 130.4L910.7 130.9L908.1 131.4L905.7 132L903.4 132.7L901.3 133.5L899.3 134.4L897.4 135.3L895.8 136.3L894.3 137.4L893 138.5L892 139.7L891.1 141L890.4 142.2L889.9 143.5L889.7 144.9Z" stroke="#000" stroke-width="1.5" fill="#fff"/>
<path d="M892.8 134L892.8 135.3L893 136.6L893.4 137.9L893.9 139.3L894.7 140.6L895.7 141.9L896.8 143.2L898.2 144.5L899.7 145.7L901.4 146.9L903.3 148.1L905.3 149.2L907.4 150.3L909.7 151.3L912.1 152.2L914.6 153.1L917.3 153.9L920 154.7L922.8 155.4L925.6 155.9L928.5 156.4L931.4 156.9L934.4 157.2L937.4 157.4L940.3 157.6L943.2 157.7L946.1 157.6L948.9 157.5L951.7 157.3L954.4 157L957 156.6L959.5 156.1L961.9 155.6L964.2 154.9L966.3 154.2L968.3 153.4L970.1 152.6L971.8 151.6L973.3 150.6L974.6 149.6L975.7 148.5L976.7 147.3L977.4 146.1L977.9 144.9L978.3 143.7L978.4 142.4L978.4 141.1L978.1 139.8L977.6 138.4L976.9 137.1L976.1 135.8L975 134.5L973.7 133.2L972.3 132L970.7 130.7L968.9 129.6L967 128.4L964.9 127.3L962.7 126.3L960.3 125.3L957.9 124.4L955.3 123.5L952.6 122.7L949.9 122L947 121.4L944.2 120.8L941.2 120.4L938.3 120L935.4 119.7L932.4 119.5L929.5 119.4L926.6 119.4L923.7 119.5L920.9 119.6L918.1 119.9L915.5 120.2L912.9 120.7L910.5 121.2L908.1 121.8L905.9 122.5L903.9 123.2L902 124L900.2 124.9L898.7 125.9L897.3 126.9L896 128L895 129.1L894.2 130.3L893.5 131.5L893.1 132.8L892.8 134ZM889.7 144.9L889.7 146.2L889.8 147.6L890.2 149L890.8 150.3L891.6 151.7L892.7 153.1L893.9 154.4L895.3 155.8L896.9 157.1L898.6 158.3L900.6 159.6L902.7 160.7L904.9 161.8L907.3 162.9L909.9 163.9L912.5 164.8L915.3 165.7L918.1 166.5L921 167.2L924 167.8L927 168.3L930.1 168.8L933.2 169.1L936.3 169.4L939.4 169.5L942.4 169.6L945.4 169.6L948.4 169.4L951.3 169.2L954.1 168.9L956.9 168.5L959.5 168L962 167.4L964.4 166.7L966.6 166L968.7 165.2L970.6 164.3L972.3 163.3L973.9 162.2L975.3 161.1L976.4 160L977.4 158.8L978.2 157.5L978.8 156.3L979.1 154.9L979.3 153.6L979.2 152.2L978.9 150.9L978.4 149.5L977.7 148.1L976.8 146.7L975.7 145.4L974.4 144L972.9 142.7L971.2 141.4L969.3 140.2L967.3 139L965.1 137.8L962.8 136.7L960.3 135.7L957.7 134.7L955 133.8L952.2 133L949.4 132.3L946.4 131.6L943.4 131.1L940.3 130.6L937.3 130.2L934.2 129.9L931.1 129.7L928 129.6L925 129.5L922 129.6L919 129.8L916.2 130.1L913.4 130.4L910.7 130.9L908.1 131.4L905.7 132L903.4 132.7L901.3 133.5L899.3 134.4L897.4 135.3L895.8 136.3L894.3 137.4L893 138.5L892 139.7L891.1 141L890.4 142.2L889.9 143.5L889.7 144.9ZM892.8 134L889.7 144.9L979.2 154.3L978.4 143Z" fill="#fff" stroke="none"/>
<path d="M892.8 134L889.7 144.9M978.4 143L979.2 154.3" stroke="#000" stroke-width="1.5" fill="none"/>
<path d="M889.7 144.9L889.7 146.2L889.8 147.6L890.2 148.9L890.8 150.3L891.6 151.6L892.6 153L893.8 154.3L895.2 155.7L896.7 156.9L898.4 158.2L900.3 159.4L902.4 160.6L904.6 161.7L907 162.8L909.5 163.8L912 164.7L914.7 165.5L917.5 166.3L920.4 167L923.3 167.7L926.3 168.2L929.4 168.7L932.4 169L935.5 169.3L938.5 169.5L941.6 169.6L944.6 169.6L947.5 169.5L950.4 169.3L953.2 169L956 168.6L958.6 168.2L961.1 167.6L963.5 167L965.8 166.3L967.9 165.5L969.8 164.6L971.6 163.7L973.2 162.7L974.7 161.6L975.9 160.5L977 159.3L977.9 158.1L978.5 156.9L979 155.6L979.2 154.3" stroke="#000" stroke-width="1.5" fill="none"/>
<path d="M892.8 134L892.8 135.3L893 136.6L893.4 137.9L893.9 139.3L894.7 140.6L895.7 141.9L896.8 143.2L898.2 144.5L899.7 145.7L901.4 146.9L903.3 148.1L905.3 149.2L907.4 150.3L909.7 151.3L912.1 152.2L914.6 153.1L917.3 153.9L920 154.7L922.8 155.4L925.6 155.9L928.5 156.4L931.4 156.9L934.4 157.2L937.4 157.4L940.3 157.6L943.2 157.7L946.1 157.6L948.9 157.5L951.7 157.3L954.4 157L957 156.6L959.5 156.1L961.9 155.6L964.2 154.9L966.3 154.2L968.3 153.4L970.1 152.6L971.8 151.6L973.3 150.6L974.6 149.6L975.7 148.5L976.7 147.3L977.4 146.1L977.9 144.9L978.3 143.7L978.4 142.4L978.4 141.1L978.1 139.8L977.6 138.4L976.9 137.1L976.1 135.8L975 134.5L973.7 133.2L972.3 132L970.7 130.7L968.9 129.6L967 128.4L964.9 127.3L962.7 126.3L960.3 125.3L957.9 124.4L955.3 123.5L952.6 122.7L949.9 122L947 121.4L944.2 120.8L941.2 120.4L938.3 120L935.4 119.7L932.4 119.5L929.5 119.4L926.6 119.4L923.7 119.5L920.9 119.6L918.1 119.9L915.5 120.2L912.9 120.7L910.5 121.2L908.1 121.8L905.9 122.5L903.9 123.2L902 124L900.2 124.9L898.7 125.9L897.3 126.9L896 128L895 129.1L894.2 130.3L893.5 131.5L893.1 132.8L892.8 134Z" stroke="#000" stroke-width="1.5" fill="#fff"/>
<path d="M889.7 144.9L889.7 146.2L889.8 147.6L890.2 148.9L890.8 150.3L891.6 151.6L892.6 153L893.8 154.3L895.2 155.7L896.7 156.9L898.4 158.2L900.3 159.4L902.4 160.6L904.6 161.7L907 162.8L909.5 163.8L912 164.7L914.7 165.5L917.5 166.3L920.4 167L923.3 167.7L926.3 168.2L929.4 168.7L932.4 169L935.5 169.3L938.5 169.5L941.6 169.6L944.6 169.6L947.5 169.5L950.4 169.3L953.2 169L956 168.6L958.6 168.2L961.1 167.6L963.5 167L965.8 166.3L967.9 165.5L969.8 164.6L971.6 163.7L973.2 162.7L974.7 161.6L975.9 160.5L977 159.3L977.9 158.1L978.5 156.9L979 155.6L979.2 154.3" stroke="#000" stroke-width="1.9" fill="none"/>
<path d="M895.7 116.1L895.7 117.4L895.9 118.7L896.2 120L896.8 121.3L897.6 122.5L898.5 123.8L899.6 125.1L900.9 126.3L902.4 127.5L904.1 128.7L905.9 129.8L907.9 130.9L910 132L912.2 133L914.6 133.9L917 134.8L919.6 135.6L922.2 136.3L925 137L927.7 137.5L930.6 138L933.4 138.4L936.3 138.8L939.2 139L942.1 139.2L944.9 139.2L947.8 139.2L950.5 139.1L953.2 138.9L955.9 138.6L958.4 138.2L960.9 137.7L963.2 137.2L965.4 136.6L967.5 135.9L969.4 135.1L971.2 134.2L972.9 133.3L974.3 132.4L975.6 131.3L976.7 130.3L977.6 129.1L978.3 128L978.9 126.8L979.2 125.5L979.3 124.3L979.2 123L979 121.7L978.5 120.4L977.9 119.1L977 117.9L976 116.6L974.7 115.3L973.3 114.1L971.8 112.9L970 111.8L968.1 110.6L966.1 109.6L963.9 108.6L961.6 107.6L959.2 106.7L956.7 105.9L954.1 105.1L951.4 104.4L948.7 103.8L945.9 103.2L943 102.8L940.1 102.4L937.3 102.1L934.4 102L931.5 101.8L928.7 101.8L925.9 101.9L923.1 102.1L920.4 102.3L917.8 102.7L915.3 103.1L913 103.6L910.7 104.2L908.5 104.8L906.5 105.6L904.7 106.4L902.9 107.3L901.4 108.2L900 109.2L898.8 110.2L897.8 111.3L897 112.5L896.4 113.7L896 114.9L895.7 116.1ZM893.8 134.1L893.8 135.4L894 136.7L894.3 138L894.9 139.3L895.7 140.5L896.6 141.8L897.7 143.1L899.1 144.3L900.5 145.5L902.2 146.7L904 147.8L906 148.9L908.1 150L910.3 151L912.7 151.9L915.1 152.8L917.7 153.6L920.4 154.3L923.1 155L925.9 155.5L928.7 156L931.5 156.4L934.4 156.8L937.3 157L940.2 157.2L943 157.2L945.9 157.2L948.6 157.1L951.3 156.9L954 156.6L956.5 156.2L959 155.7L961.3 155.2L963.5 154.6L965.6 153.9L967.6 153.1L969.3 152.2L971 151.3L972.4 150.4L973.7 149.3L974.8 148.3L975.7 147.1L976.4 146L977 144.8L977.3 143.5L977.4 142.3L977.4 141L977.1 139.7L976.6 138.4L976 137.1L975.1 135.9L974.1 134.6L972.9 133.3L971.5 132.1L969.9 130.9L968.1 129.8L966.3 128.6L964.2 127.6L962 126.6L959.7 125.6L957.3 124.7L954.8 123.9L952.2 123.1L949.5 122.4L946.8 121.8L944 121.3L941.1 120.8L938.2 120.4L935.4 120.1L932.5 120L929.6 119.9L926.8 119.8L924 119.9L921.2 120.1L918.5 120.3L916 120.7L913.5 121.1L911.1 121.6L908.8 122.2L906.6 122.8L904.6 123.6L902.8 124.4L901.1 125.3L899.5 126.2L898.1 127.2L897 128.2L895.9 129.3L895.1 130.5L894.5 131.7L894.1 132.9L893.8 134.1ZM895.7 116.1L893.8 134.1L977.4 142.9L979.3 124.9Z" fill="#fff" stroke="none"/>
<path d="M895.7 116.1L893.8 134.1M979.3 124.9L977.4 142.9" stroke="#000" stroke-width="1.5" fill="none"/>
<path d="M893.8 134.1L893.8 135.4L894 136.6L894.3 137.9L894.9 139.2L895.6 140.5L896.5 141.7L897.6 143L898.9 144.2L900.4 145.4L902 146.6L903.8 147.7L905.7 148.8L907.8 149.8L910 150.8L912.3 151.8L914.7 152.6L917.2 153.4L919.8 154.2L922.5 154.8L925.2 155.4L928 155.9L930.9 156.4L933.7 156.7L936.6 156.9L939.4 157.1L942.2 157.2L945 157.2L947.8 157.1L950.5 156.9L953.1 156.7L955.7 156.3L958.1 155.9L960.5 155.4L962.7 154.8L964.8 154.1L966.8 153.4L968.6 152.6L970.3 151.7L971.8 150.8L973.2 149.8L974.3 148.7L975.3 147.7L976.1 146.5L976.7 145.3L977.2 144.1L977.4 142.9" stroke="#000" stroke-width="1.5" fill="none"/>
<path d="M895.7 116.1L895.7 117.4L895.9 118.7L896.2 120L896.8 121.3L897.6 122.5L898.5 123.8L899.6 125.1L900.9 126.3L902.4 127.5L904.1 128.7L905.9 129.8L907.9 130.9L910 132L912.2 133L914.6 133.9L917 134.8L919.6 135.6L922.2 136.3L925 137L927.7 137.5L930.6 138L933.4 138.4L936.3 138.8L939.2 139L942.1 139.2L944.9 139.2L947.8 139.2L950.5 139.1L953.2 138.9L955.9 138.6L958.4 138.2L960.9 137.7L963.2 137.2L965.4 136.6L967.5 135.9L969.4 135.1L971.2 134.2L972.9 133.3L974.3 132.4L975.6 131.3L976.7 130.3L977.6 129.1L978.3 128L978.9 126.8L979.2 125.5L979.3 124.3L979.2 123L979 121.7L978.5 120.4L977.9 119.1L977 117.9L976 116.6L974.7 115.3L973.3 114.1L971.8 112.9L970 111.8L968.1 110.6L966.1 109.6L963.9 108.6L961.6 107.6L959.2 106.7L956.7 105.9L954.1 105.1L951.4 104.4L948.7 103.8L945.9 103.2L943 102.8L940.1 102.4L937.3 102.1L934.4 102L931.5 101.8L928.7 101.8L925.9 101.9L923.1 102.1L920.4 102.3L917.8 102.7L915.3 103.1L913 103.6L910.7 104.2L908.5 104.8L906.5 105.6L904.7 106.4L902.9 107.3L901.4 108.2L900 109.2L898.8 110.2L897.8 111.3L897 112.5L896.4 113.7L896 114.9L895.7 116.1Z" stroke="#000" stroke-width="1.5" fill="#fff"/>
<path d="M897.2 114.1L897.1 115.3L897.3 116.5L897.6 117.8L898.2 119L898.9 120.3L899.8 121.5L900.9 122.8L902.2 124L903.7 125.1L905.3 126.3L907 127.4L908.9 128.5L911 129.5L913.2 130.4L915.4 131.3L917.8 132.2L920.3 133L922.9 133.7L925.6 134.3L928.3 134.9L931 135.3L933.8 135.7L936.6 136.1L939.4 136.3L942.2 136.4L945 136.5L947.7 136.5L950.4 136.3L953 136.2L955.6 135.9L958.1 135.5L960.4 135L962.7 134.5L964.9 133.9L966.9 133.2L968.8 132.5L970.5 131.7L972.1 130.8L973.5 129.8L974.7 128.8L975.8 127.8L976.7 126.7L977.4 125.6L977.9 124.4L978.2 123.2L978.4 122L978.3 120.8L978 119.5L977.6 118.3L976.9 117L976.1 115.8L975.1 114.5L973.9 113.3L972.5 112.1L971 110.9L969.3 109.8L967.5 108.7L965.5 107.7L963.4 106.7L961.2 105.8L958.8 104.9L956.4 104.1L953.9 103.3L951.2 102.7L948.6 102.1L945.8 101.6L943.1 101.1L940.3 100.8L937.5 100.5L934.7 100.3L931.9 100.2L929.1 100.2L926.4 100.2L923.8 100.4L921.2 100.6L918.6 101L916.2 101.4L913.9 101.9L911.7 102.4L909.6 103.1L907.6 103.8L905.8 104.6L904.2 105.4L902.7 106.4L901.3 107.3L900.2 108.3L899.2 109.4L898.4 110.5L897.8 111.7L897.4 112.9L897.2 114.1ZM896.9 116.3L896.9 117.5L897.1 118.7L897.4 120L898 121.2L898.7 122.5L899.6 123.7L900.7 124.9L902 126.2L903.4 127.3L905 128.5L906.8 129.6L908.7 130.6L910.8 131.7L912.9 132.6L915.2 133.5L917.6 134.4L920.1 135.2L922.7 135.9L925.3 136.5L928 137.1L930.8 137.5L933.6 137.9L936.4 138.2L939.2 138.5L942 138.6L944.7 138.7L947.5 138.7L950.2 138.5L952.8 138.3L955.4 138.1L957.8 137.7L960.2 137.2L962.5 136.7L964.6 136.1L966.6 135.4L968.5 134.7L970.3 133.8L971.8 133L973.3 132L974.5 131L975.6 130L976.5 128.9L977.2 127.8L977.7 126.6L978 125.4L978.1 124.2L978.1 122.9L977.8 121.7L977.3 120.4L976.7 119.2L975.9 117.9L974.9 116.7L973.7 115.5L972.3 114.3L970.8 113.1L969.1 112L967.3 110.9L965.3 109.9L963.2 108.9L961 108L958.6 107.1L956.2 106.3L953.6 105.5L951 104.9L948.3 104.3L945.6 103.7L942.9 103.3L940.1 102.9L937.3 102.7L934.5 102.5L931.7 102.4L928.9 102.4L926.2 102.4L923.5 102.6L920.9 102.8L918.4 103.2L916 103.6L913.7 104.1L911.4 104.6L909.4 105.3L907.4 106L905.6 106.8L903.9 107.6L902.4 108.5L901.1 109.5L900 110.5L899 111.6L898.2 112.7L897.6 113.9L897.2 115L896.9 116.3ZM897.2 114.1L896.9 116.3L978.1 124.8L978.3 122.6Z" fill="#fff" stroke="none"/>
<path d="M897.2 114.1L896.9 116.3M978.3 122.6L978.1 124.8" stroke="#000" stroke-width="1.2" fill="none"/>
<path d="M896.9 116.3L896.9 117.5L897.1 118.7L897.4 119.9L897.9 121.2L898.7 122.4L899.5 123.6L900.6 124.9L901.9 126L903.3 127.2L904.9 128.4L906.6 129.5L908.5 130.5L910.5 131.5L912.6 132.5L914.8 133.4L917.2 134.2L919.6 135L922.2 135.7L924.8 136.4L927.4 136.9L930.1 137.4L932.9 137.8L935.7 138.2L938.4 138.4L941.2 138.6L943.9 138.7L946.7 138.7L949.3 138.6L952 138.4L954.5 138.2L957 137.8L959.4 137.4L961.7 136.9L963.8 136.3L965.9 135.7L967.8 135L969.6 134.2L971.2 133.3L972.7 132.4L974 131.5L975.1 130.5L976.1 129.4L976.9 128.3L977.5 127.2L977.9 126L978.1 124.8" stroke="#000" stroke-width="1.2" fill="none"/>
<path d="M897.2 114.1L897.1 115.3L897.3 116.5L897.6 117.8L898.2 119L898.9 120.3L899.8 121.5L900.9 122.8L902.2 124L903.7 125.1L905.3 126.3L907 127.4L908.9 128.5L911 129.5L913.2 130.4L915.4 131.3L917.8 132.2L920.3 133L922.9 133.7L925.6 134.3L928.3 134.9L931 135.3L933.8 135.7L936.6 136.1L939.4 136.3L942.2 136.4L945 136.5L947.7 136.5L950.4 136.3L953 136.2L955.6 135.9L958.1 135.5L960.4 135L962.7 134.5L964.9 133.9L966.9 133.2L968.8 132.5L970.5 131.7L972.1 130.8L973.5 129.8L974.7 128.8L975.8 127.8L976.7 126.7L977.4 125.6L977.9 124.4L978.2 123.2L978.4 122L978.3 120.8L978 119.5L977.6 118.3L976.9 117L976.1 115.8L975.1 114.5L973.9 113.3L972.5 112.1L971 110.9L969.3 109.8L967.5 108.7L965.5 107.7L963.4 106.7L961.2 105.8L958.8 104.9L956.4 104.1L953.9 103.3L951.2 102.7L948.6 102.1L945.8 101.6L943.1 101.1L940.3 100.8L937.5 100.5L934.7 100.3L931.9 100.2L929.1 100.2L926.4 100.2L923.8 100.4L921.2 100.6L918.6 101L916.2 101.4L913.9 101.9L911.7 102.4L909.6 103.1L907.6 103.8L905.8 104.6L904.2 105.4L902.7 106.4L901.3 107.3L900.2 108.3L899.2 109.4L898.4 110.5L897.8 111.7L897.4 112.9L897.2 114.1Z" stroke="#000" stroke-width="1.2" fill="#fff"/>
<path d="M897.7 102L897.7 103.2L897.9 104.5L898.2 105.7L898.8 107L899.5 108.3L900.5 109.6L901.6 110.8L902.9 112L904.3 113.2L906 114.4L907.8 115.5L909.7 116.6L911.8 117.6L914 118.6L916.3 119.5L918.8 120.4L921.3 121.2L923.9 121.9L926.6 122.5L929.4 123.1L932.2 123.6L935 124L937.8 124.3L940.7 124.6L943.5 124.7L946.3 124.8L949.1 124.7L951.9 124.6L954.5 124.4L957.2 124.1L959.7 123.8L962.1 123.3L964.4 122.8L966.6 122.1L968.6 121.5L970.6 120.7L972.3 119.9L973.9 119L975.4 118L976.6 117L977.7 115.9L978.6 114.8L979.3 113.7L979.9 112.5L980.2 111.3L980.3 110L980.2 108.8L980 107.5L979.5 106.2L978.9 104.9L978 103.7L977 102.4L975.8 101.2L974.4 100L972.9 98.8L971.1 97.6L969.3 96.5L967.3 95.5L965.1 94.5L962.8 93.5L960.5 92.6L958 91.8L955.4 91.1L952.7 90.4L950 89.8L947.3 89.2L944.4 88.8L941.6 88.4L938.7 88.1L935.9 88L933.1 87.9L930.3 87.8L927.5 87.9L924.8 88.1L922.1 88.3L919.6 88.6L917.1 89.1L914.7 89.6L912.5 90.1L910.4 90.8L908.4 91.5L906.5 92.3L904.9 93.2L903.3 94.1L902 95.1L900.8 96.1L899.8 97.2L899 98.4L898.4 99.5L898 100.7L897.7 102ZM896.5 114L896.4 115.2L896.6 116.5L897 117.8L897.5 119.1L898.3 120.3L899.2 121.6L900.3 122.8L901.6 124.1L903.1 125.3L904.7 126.4L906.5 127.6L908.4 128.6L910.5 129.7L912.7 130.6L915.1 131.6L917.5 132.4L920 133.2L922.7 133.9L925.3 134.6L928.1 135.1L930.9 135.6L933.7 136L936.6 136.4L939.4 136.6L942.3 136.7L945.1 136.8L947.9 136.8L950.6 136.7L953.3 136.5L955.9 136.2L958.4 135.8L960.8 135.3L963.1 134.8L965.3 134.2L967.4 133.5L969.3 132.7L971.1 131.9L972.7 131L974.1 130L975.4 129L976.5 128L977.4 126.8L978.1 125.7L978.6 124.5L978.9 123.3L979 122L979 120.8L978.7 119.5L978.3 118.2L977.6 117L976.8 115.7L975.7 114.5L974.5 113.2L973.1 112L971.6 110.8L969.9 109.7L968 108.6L966 107.5L963.9 106.5L961.6 105.6L959.2 104.7L956.7 103.8L954.1 103.1L951.5 102.4L948.8 101.8L946 101.3L943.2 100.8L940.3 100.5L937.5 100.2L934.6 100L931.8 99.9L929 99.9L926.2 99.9L923.5 100.1L920.9 100.3L918.3 100.7L915.8 101.1L913.5 101.6L911.2 102.2L909.1 102.8L907.1 103.6L905.3 104.4L903.6 105.2L902.1 106.1L900.7 107.1L899.5 108.2L898.5 109.3L897.7 110.4L897.1 111.6L896.7 112.8L896.5 114ZM897.7 102L896.5 114L979 122.7L980.3 110.6Z" fill="#fff" stroke="none"/>
<path d="M897.7 102L896.5 114M980.3 110.6L979 122.7" stroke="#000" stroke-width="1.6" fill="none"/>
<path d="M896.5 114L896.4 115.2L896.6 116.5L896.9 117.7L897.5 119L898.2 120.3L899.1 121.5L900.2 122.7L901.5 124L902.9 125.1L904.5 126.3L906.3 127.4L908.2 128.5L910.2 129.5L912.4 130.5L914.7 131.4L917.1 132.3L919.6 133.1L922.1 133.8L924.8 134.5L927.5 135L930.2 135.5L933 135.9L935.8 136.3L938.7 136.5L941.5 136.7L944.3 136.8L947.1 136.8L949.8 136.7L952.4 136.5L955 136.3L957.6 135.9L960 135.5L962.3 135L964.5 134.4L966.6 133.8L968.6 133L970.4 132.2L972 131.4L973.5 130.4L974.8 129.5L976 128.4L977 127.4L977.8 126.2L978.4 125.1L978.8 123.9L979 122.7" stroke="#000" stroke-width="2.4" fill="none"/>
<path d="M897.7 102L897.7 103.2L897.9 104.5L898.2 105.7L898.8 107L899.5 108.3L900.5 109.6L901.6 110.8L902.9 112L904.3 113.2L906 114.4L907.8 115.5L909.7 116.6L911.8 117.6L914 118.6L916.3 119.5L918.8 120.4L921.3 121.2L923.9 121.9L926.6 122.5L929.4 123.1L932.2 123.6L935 124L937.8 124.3L940.7 124.6L943.5 124.7L946.3 124.8L949.1 124.7L951.9 124.6L954.5 124.4L957.2 124.1L959.7 123.8L962.1 123.3L964.4 122.8L966.6 122.1L968.6 121.5L970.6 120.7L972.3 119.9L973.9 119L975.4 118L976.6 117L977.7 115.9L978.6 114.8L979.3 113.7L979.9 112.5L980.2 111.3L980.3 110L980.2 108.8L980 107.5L979.5 106.2L978.9 104.9L978 103.7L977 102.4L975.8 101.2L974.4 100L972.9 98.8L971.1 97.6L969.3 96.5L967.3 95.5L965.1 94.5L962.8 93.5L960.5 92.6L958 91.8L955.4 91.1L952.7 90.4L950 89.8L947.3 89.2L944.4 88.8L941.6 88.4L938.7 88.1L935.9 88L933.1 87.9L930.3 87.8L927.5 87.9L924.8 88.1L922.1 88.3L919.6 88.6L917.1 89.1L914.7 89.6L912.5 90.1L910.4 90.8L908.4 91.5L906.5 92.3L904.9 93.2L903.3 94.1L902 95.1L900.8 96.1L899.8 97.2L899 98.4L898.4 99.5L898 100.7L897.7 102Z" stroke="#000" stroke-width="1.6" fill="#fff"/>
<path d="M897.7 102L897.7 103.2L897.9 104.5L898.2 105.7L898.8 107L899.5 108.3L900.5 109.6L901.6 110.8L902.9 112L904.3 113.2L906 114.4L907.8 115.5L909.7 116.6L911.8 117.6L914 118.6L916.3 119.5L918.8 120.4L921.3 121.2L923.9 121.9L926.6 122.5L929.4 123.1L932.2 123.6L935 124L937.8 124.3L940.7 124.6L943.5 124.7L946.3 124.8L949.1 124.7L951.9 124.6L954.5 124.4L957.2 124.1L959.7 123.8L962.1 123.3L964.4 122.8L966.6 122.1L968.6 121.5L970.6 120.7L972.3 119.9L973.9 119L975.4 118L976.6 117L977.7 115.9L978.6 114.8L979.3 113.7L979.9 112.5L980.2 111.3L980.3 110L980.2 108.8L980 107.5L979.5 106.2L978.9 104.9L978 103.7L977 102.4L975.8 101.2L974.4 100L972.9 98.8L971.1 97.6L969.3 96.5L967.3 95.5L965.1 94.5L962.8 93.5L960.5 92.6L958 91.8L955.4 91.1L952.7 90.4L950 89.8L947.3 89.2L944.4 88.8L941.6 88.4L938.7 88.1L935.9 88L933.1 87.9L930.3 87.8L927.5 87.9L924.8 88.1L922.1 88.3L919.6 88.6L917.1 89.1L914.7 89.6L912.5 90.1L910.4 90.8L908.4 91.5L906.5 92.3L904.9 93.2L903.3 94.1L902 95.1L900.8 96.1L899.8 97.2L899 98.4L898.4 99.5L898 100.7L897.7 102Z" stroke="#000" stroke-width="1.8" fill="#fff"/>
<path d="M907.3 103.3L907.3 104.2L907.4 105.2L907.7 106.2L908.1 107.2L908.7 108.1L909.4 109.1L910.3 110L911.3 111L912.4 111.9L913.7 112.8L915 113.7L916.5 114.5L918.1 115.3L919.8 116L921.6 116.7L923.5 117.4L925.4 118L927.4 118.6L929.5 119L931.6 119.5L933.7 119.9L935.9 120.2L938.1 120.4L940.3 120.6L942.4 120.7L944.6 120.8L946.7 120.7L948.8 120.6L950.9 120.5L952.9 120.3L954.8 120L956.7 119.6L958.4 119.2L960.1 118.7L961.7 118.2L963.1 117.6L964.5 117L965.7 116.3L966.8 115.6L967.8 114.8L968.6 114L969.3 113.1L969.9 112.2L970.3 111.3L970.5 110.4L970.6 109.4L970.6 108.5L970.4 107.5L970 106.5L969.5 105.6L968.9 104.6L968.1 103.6L967.2 102.7L966.1 101.7L964.9 100.8L963.6 100L962.2 99.1L960.6 98.3L959 97.5L957.2 96.8L955.4 96.1L953.5 95.5L951.5 94.9L949.5 94.4L947.4 93.9L945.3 93.5L943.1 93.2L941 92.9L938.8 92.7L936.6 92.5L934.4 92.5L932.3 92.4L930.2 92.5L928.1 92.6L926 92.8L924.1 93.1L922.2 93.4L920.4 93.8L918.7 94.2L917 94.7L915.5 95.3L914.1 95.9L912.8 96.6L911.6 97.3L910.6 98L909.7 98.8L908.9 99.6L908.3 100.5L907.8 101.4L907.5 102.3L907.3 103.3Z" stroke="#000" stroke-width="1.8" fill="#fff"/>
<path d="M965.7 115.6L964.9 114.7L963.9 113.8L962.8 112.9L961.5 112.1L960.2 111.2L958.8 110.5L957.2 109.7L955.6 109L953.9 108.4L952.1 107.7L950.2 107.2L948.3 106.7L946.3 106.2L944.3 105.8L942.2 105.5L940.2 105.2L938.1 105L936 104.8L933.9 104.7L931.9 104.7L929.9 104.7L927.9 104.8L925.9 105L924 105.2L922.2 105.5L920.5 105.9L918.8 106.3L917.2 106.7L915.7 107.2L914.4 107.8L913.1 108.4L912 109.1L910.9 109.8" stroke="#000" stroke-width="2.0" fill="none"/>
<path d="M969.1 108.3L968.7 107.4L968.3 106.5L967.7 105.6L966.9 104.7L966 103.8L965 102.9L963.9 102L962.7 101.2L961.3 100.4L959.9 99.6L958.3 98.9L956.7 98.2L955 97.5L953.2 96.9L951.3 96.3L949.4 95.8L947.4 95.4L945.4 95L943.4 94.7L941.3 94.4L939.2 94.2L937.2 94L935.1 93.9L933 93.9L931 93.9L929 94L927.1 94.2L925.2 94.4L923.4 94.7L921.6 95L920 95.4L918.4 95.9L916.9 96.4L915.5 96.9L914.2 97.5L913.1 98.2L912 98.9L911.1 99.6L910.3 100.4L909.7 101.2L909.1 102" stroke="#000" stroke-width="0.9" fill="none"/>
<path d="M959.3 98.6L957.8 108.7" stroke="#000" stroke-width="1.0" fill="none"/>
<ellipse cx="916.8" cy="147.8" rx="4" ry="4.3" fill="#fff" stroke="#000" stroke-width="1.5"/>
<path d="M913.3 147.1L920.2 147.9" stroke="#000" stroke-width="0.9" fill="none"/>
<path d="M913.2 148.9L920.1 149.7" stroke="#000" stroke-width="0.9" fill="none"/>
<ellipse cx="912" cy="180.9" rx="1.9" ry="2.2" fill="#fff" stroke="#000" stroke-width="1.2"/>
<path d="M975.4 120.8L987 125.3" stroke="#000" stroke-width="1.3" fill="none"/>
<path d="M973.5 126.4L987 131.4" stroke="#000" stroke-width="1.3" fill="none"/>
<path d="M986.8 133.7L997.2 135.7L998.8 125.1L988.4 123.1ZM986.8 133.7L986.3 133.4L985.8 132.8L985.4 131.9L985.2 130.7L985.1 129.3L985.2 127.9L985.5 126.6L985.9 125.3L986.5 124.3L987.1 123.5L987.7 123.1L988.4 123.1Z" fill="#fff" stroke="none"/>
<path d="M986.8 133.7L986.3 133.4L985.8 132.8L985.4 131.9L985.2 130.7L985.1 129.3L985.2 127.9L985.5 126.6L985.9 125.3L986.5 124.3L987.1 123.5L987.7 123.1L988.4 123.1" stroke="#000" stroke-width="1.4" fill="none"/>
<path d="M986.8 133.7L997.2 135.7" stroke="#000" stroke-width="1.4" fill="none"/>
<path d="M988.4 123.1L998.8 125.1" stroke="#000" stroke-width="1.4" fill="none"/>
<path d="M1000.4 130.9L1000.1 132.2L999.7 133.5L999.1 134.5L998.5 135.3L997.9 135.7L997.2 135.7L996.7 135.4L996.2 134.8L995.8 133.9L995.6 132.7L995.5 131.3L995.6 129.9L995.9 128.6L996.3 127.3L996.9 126.3L997.5 125.5L998.1 125.1L998.8 125.1L999.3 125.4L999.8 126L1000.2 126.9L1000.4 128.1L1000.5 129.5L1000.4 130.9Z" stroke="#000" stroke-width="1.4" fill="#fff"/>
<path d="M972.9 143.6L978 145.4" stroke="#000" stroke-width="1.3" fill="none"/>
<path d="M972.5 149.2L977.5 151" stroke="#000" stroke-width="1.3" fill="none"/>
<path d="M976.8 152.9L989.4 157.5L991 146.9L978.4 142.3ZM976.8 152.9L976.2 152.5L975.7 151.8L975.3 150.8L975.1 149.5L975 148.1L975.2 146.7L975.4 145.4L975.9 144.2L976.4 143.2L977 142.5L977.7 142.2L978.4 142.3Z" fill="#fff" stroke="none"/>
<path d="M976.8 152.9L976.2 152.5L975.7 151.8L975.3 150.8L975.1 149.5L975 148.1L975.2 146.7L975.4 145.4L975.9 144.2L976.4 143.2L977 142.5L977.7 142.2L978.4 142.3" stroke="#000" stroke-width="1.4" fill="none"/>
<path d="M976.8 152.9L989.4 157.5" stroke="#000" stroke-width="1.4" fill="none"/>
<path d="M978.4 142.3L991 146.9" stroke="#000" stroke-width="1.4" fill="none"/>
<path d="M992.6 153.1L992.4 154.4L991.9 155.6L991.4 156.6L990.8 157.3L990.1 157.6L989.4 157.5L988.8 157.1L988.3 156.4L987.9 155.4L987.7 154.1L987.6 152.7L987.8 151.3L988 150L988.5 148.8L989 147.8L989.6 147.1L990.3 146.8L991 146.9L991.6 147.3L992.1 148L992.5 149L992.7 150.3L992.8 151.7L992.6 153.1Z" stroke="#000" stroke-width="1.4" fill="#fff"/>
<path d="M912.6 128.9L917.6 123.3" stroke="#000" stroke-width="1.2" fill="none"/>
<path d="M915.8 131.3L920.6 126.5" stroke="#000" stroke-width="1.2" fill="none"/>
<path d="M916.4 134.5L910.4 138.5L904 129.3L910 125.3ZM916.4 134.5L917.3 133.7L917.9 132.6L918.2 131.3L918.1 130L917.7 128.6L917 127.3L916.1 126.2L914.9 125.4L913.6 124.9L912.3 124.7L911.1 124.8L910 125.3Z" fill="#fff" stroke="none"/>
<path d="M916.4 134.5L917.3 133.7L917.9 132.6L918.2 131.3L918.1 130L917.7 128.6L917 127.3L916.1 126.2L914.9 125.4L913.6 124.9L912.3 124.7L911.1 124.8L910 125.3" stroke="#000" stroke-width="1.4" fill="none"/>
<path d="M916.4 134.5L910.4 138.5" stroke="#000" stroke-width="1.4" fill="none"/>
<path d="M910 125.3L904 129.3" stroke="#000" stroke-width="1.4" fill="none"/>
<path d="M903.4 136.5L904.3 137.6L905.5 138.4L906.8 138.9L908.1 139.1L909.3 139L910.4 138.5L911.3 137.7L911.9 136.6L912.2 135.3L912.1 134L911.7 132.6L911 131.3L910.1 130.2L908.9 129.4L907.6 128.9L906.3 128.7L905.1 128.8L904 129.3L903.1 130.1L902.5 131.2L902.2 132.5L902.3 133.8L902.7 135.2L903.4 136.5Z" stroke="#000" stroke-width="1.4" fill="#fff"/>
</svg></body></html>
